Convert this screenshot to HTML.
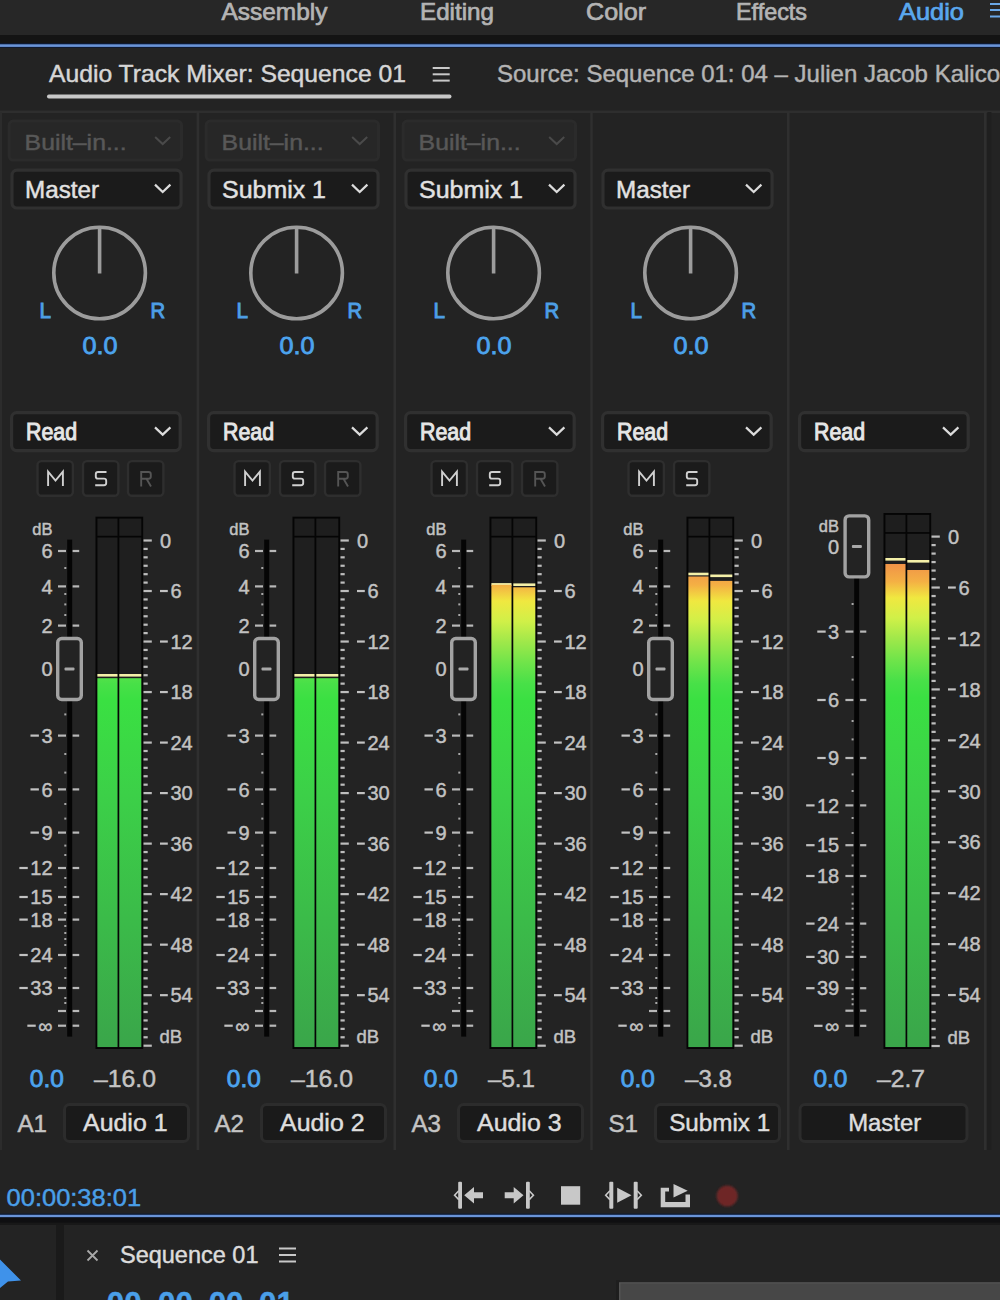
<!DOCTYPE html>
<html><head><meta charset="utf-8"><title>Audio Track Mixer</title>
<style>
html,body{margin:0;padding:0;background:#232323;width:1000px;height:1300px;overflow:hidden;}
svg{display:block;font-family:"Liberation Sans", sans-serif;}
</style></head><body>
<svg width="1000" height="1300" viewBox="0 0 1000 1300">
<rect width="1000" height="1300" fill="#232323"/>
<rect x="0" y="0" width="1000" height="35" fill="#272727" rx="0"/>
<rect x="0" y="35" width="1000" height="8.5" fill="#141414" rx="0"/>
<rect x="0" y="43.2" width="1000" height="4.6" fill="#0c1a36" rx="0"/>
<rect x="0" y="44.3" width="1000" height="2.6" fill="#6a94d8" rx="0"/>
<text x="221.5" y="19.5" font-size="24" fill="#b4b4b4" text-anchor="start" font-weight="normal" textLength="106" lengthAdjust="spacingAndGlyphs" stroke="#b4b4b4" stroke-width="0.7">Assembly</text>
<text x="420" y="19.5" font-size="24" fill="#b4b4b4" text-anchor="start" font-weight="normal" textLength="74" lengthAdjust="spacingAndGlyphs" stroke="#b4b4b4" stroke-width="0.7">Editing</text>
<text x="586" y="19.5" font-size="24" fill="#b4b4b4" text-anchor="start" font-weight="normal" textLength="60" lengthAdjust="spacingAndGlyphs" stroke="#b4b4b4" stroke-width="0.7">Color</text>
<text x="736" y="19.5" font-size="24" fill="#b4b4b4" text-anchor="start" font-weight="normal" textLength="71" lengthAdjust="spacingAndGlyphs" stroke="#b4b4b4" stroke-width="0.7">Effects</text>
<text x="899" y="19.5" font-size="24" fill="#5aa8ee" text-anchor="start" font-weight="normal" textLength="65" lengthAdjust="spacingAndGlyphs" stroke="#5aa8ee" stroke-width="0.7">Audio</text>
<rect x="990" y="3" width="12" height="2" fill="#6aa8e8" rx="0"/>
<rect x="990" y="9" width="12" height="2" fill="#6aa8e8" rx="0"/>
<rect x="990" y="15.5" width="12" height="2" fill="#6aa8e8" rx="0"/>
<text x="49" y="81.6" font-size="24" fill="#d6d6d6" text-anchor="start" font-weight="normal" textLength="357" lengthAdjust="spacingAndGlyphs" stroke="#d6d6d6" stroke-width="0.45">Audio Track Mixer: Sequence 01</text>
<rect x="432.7" y="67" width="17" height="2" fill="#c8c8c8" rx="0"/>
<rect x="432.7" y="73.3" width="17" height="2" fill="#c8c8c8" rx="0"/>
<rect x="432.7" y="79.6" width="17" height="2" fill="#c8c8c8" rx="0"/>
<rect x="47" y="94.6" width="404.5" height="3.8" fill="#c8c8c8" rx="1.9"/>
<text x="497" y="81.6" font-size="24" fill="#b4b4b4" text-anchor="start" font-weight="normal" stroke="#b4b4b4" stroke-width="0.45">Source: Sequence 01: 04 – Julien Jacob Kalicoooo</text>
<rect x="0" y="110.6" width="1000" height="2.4" fill="#2e2e2e" rx="0"/>
<g transform="translate(0,0)">
<rect x="9.2" y="121.1" width="172.3" height="38.900000000000006" fill="#272727" stroke="#2b2b2b" stroke-width="3" rx="4"/>
<text x="24.6" y="150.3" font-size="22" fill="#585858" text-anchor="start" font-weight="normal" textLength="102" lengthAdjust="spacingAndGlyphs" stroke="#585858" stroke-width="0.45">Built–in...</text>
<polyline points="155.2,137.1 162.7,144.1 170.2,137.1" fill="none" stroke="#4a4a4a" stroke-width="2"/>
<rect x="12.0" y="170.2" width="169.1" height="37.8" fill="#1b1b1b" stroke="#303030" stroke-width="3.2" rx="5"/>
<text x="25" y="198" font-size="23" fill="#e2e2e2" text-anchor="start" font-weight="normal" textLength="74" lengthAdjust="spacingAndGlyphs" stroke="#e2e2e2" stroke-width="0.45">Master</text>
<polyline points="155.0,184.65 162.7,191.95000000000002 170.39999999999998,184.65" fill="none" stroke="#dcdcdc" stroke-width="2.2"/>
<circle cx="99.6" cy="273" r="45.8" fill="none" stroke="#9c9c9c" stroke-width="3.6"/>
<rect x="97.8" y="227" width="3.6" height="46.5" fill="#9c9c9c" rx="0"/>
<text x="39.4" y="318.3" font-size="22" fill="#4d9fe6" text-anchor="start" font-weight="normal" textLength="11.5" lengthAdjust="spacingAndGlyphs" stroke="#4d9fe6" stroke-width="1.0">L</text>
<text x="150.6" y="318.3" font-size="22" fill="#4d9fe6" text-anchor="start" font-weight="normal" textLength="14.6" lengthAdjust="spacingAndGlyphs" stroke="#4d9fe6" stroke-width="1.0">R</text>
<text x="100" y="353.7" font-size="24" fill="#4ca3ee" text-anchor="middle" font-weight="normal" textLength="35" lengthAdjust="spacingAndGlyphs" stroke="#4ca3ee" stroke-width="0.8">0.0</text>
<rect x="11.6" y="412.70000000000005" width="168.60000000000002" height="37.89999999999996" fill="#1b1b1b" stroke="#303030" stroke-width="3.2" rx="5"/>
<text x="26" y="440" font-size="23" fill="#e6e6e6" text-anchor="start" font-weight="normal" textLength="51" lengthAdjust="spacingAndGlyphs" stroke="#e6e6e6" stroke-width="0.95">Read</text>
<polyline points="155.0,427.35 162.7,434.65 170.39999999999998,427.35" fill="none" stroke="#dcdcdc" stroke-width="2.2"/>
<rect x="37.5" y="461.09999999999997" width="35.4" height="34.700000000000024" fill="#1b1b1b" stroke="#2e2e2e" stroke-width="2.4" rx="4"/>
<path d="M48.1,486 V471.6 L55.5,480.5 L62.9,471.6 V486" fill="none" stroke="#d0d0d0" stroke-width="1.9" stroke-linejoin="miter"/>
<rect x="83.0" y="461.09999999999997" width="35.4" height="34.700000000000024" fill="#1b1b1b" stroke="#2e2e2e" stroke-width="2.4" rx="4"/>
<path d="M106.5,472 H98.0 Q95.8,472 95.8,474.2 V476.4 Q95.8,478.6 98.0,478.6 H104.0 Q106.2,478.6 106.2,480.8 V483 Q106.2,485.2 104.0,485.2 H95.2" fill="none" stroke="#d0d0d0" stroke-width="1.9" stroke-linejoin="miter"/>
<rect x="128.0" y="461.09999999999997" width="35.4" height="34.700000000000024" fill="#1b1b1b" stroke="#2e2e2e" stroke-width="2.4" rx="4"/>
<path d="M141.2,486.5 V472 H148.6 Q150.8,472 150.8,474.2 V476.6 Q150.8,478.8 148.6,478.8 H141.2 M146.5,478.8 L151.0,486.5" fill="none" stroke="#555555" stroke-width="1.9" stroke-linejoin="miter"/>
<linearGradient id="g0" gradientUnits="userSpaceOnUse" x1="0" y1="540.5" x2="0" y2="1045.7">
<stop offset="0.0000" stop-color="#ff6030"/>
<stop offset="0.0500" stop-color="#f09048"/>
<stop offset="0.0883" stop-color="#f4b044"/>
<stop offset="0.1200" stop-color="#f0e840"/>
<stop offset="0.1600" stop-color="#d0f048"/>
<stop offset="0.2000" stop-color="#a0e84a"/>
<stop offset="0.2417" stop-color="#70e44a"/>
<stop offset="0.2833" stop-color="#48e048"/>
<stop offset="0.3167" stop-color="#3ae042"/>
<stop offset="0.5000" stop-color="#3cd048"/>
<stop offset="1.0000" stop-color="#3aa64a"/>
</linearGradient>
<rect x="95.5" y="516.7" width="47.7" height="532.3" fill="#050505" rx="0"/>
<rect x="97.4" y="518.6" width="20.099999999999994" height="17.2" fill="#1e1e1e" rx="0"/>
<rect x="119.3" y="518.6" width="22.000000000000014" height="17.2" fill="#1e1e1e" rx="0"/>
<rect x="97.4" y="537.5" width="20.099999999999994" height="509.69999999999993" fill="#1f1f1f" rx="0"/>
<rect x="119.3" y="537.5" width="22.000000000000014" height="509.69999999999993" fill="#1f1f1f" rx="0"/>
<rect x="97.4" y="674" width="20.099999999999994" height="2.6" fill="#f4f0a8" rx="0"/>
<rect x="97.4" y="678.2" width="20.099999999999994" height="368.79999999999995" fill="url(#g0)" rx="0"/>
<rect x="119.3" y="674" width="22.000000000000014" height="2.6" fill="#f4f0a8" rx="0"/>
<rect x="119.3" y="678.2" width="22.000000000000014" height="368.79999999999995" fill="url(#g0)" rx="0"/>
<rect x="143.5" y="539.4" width="8.3" height="2.2" fill="#bdbdbd" rx="0"/>
<text x="160" y="547.7" font-size="20" fill="#c2c2c2" text-anchor="start" font-weight="normal" stroke="#c2c2c2" stroke-width="0.45">0</text>
<rect x="143.5" y="547.8199999999999" width="4.2" height="2.2" fill="#bdbdbd" rx="0"/>
<rect x="143.5" y="556.24" width="4.2" height="2.2" fill="#bdbdbd" rx="0"/>
<rect x="143.5" y="564.66" width="4.2" height="2.2" fill="#bdbdbd" rx="0"/>
<rect x="143.5" y="573.0799999999999" width="4.2" height="2.2" fill="#bdbdbd" rx="0"/>
<rect x="143.5" y="581.5" width="4.2" height="2.2" fill="#bdbdbd" rx="0"/>
<rect x="143.5" y="589.92" width="8.3" height="2.2" fill="#bdbdbd" rx="0"/>
<rect x="160" y="589.92" width="7.8" height="2.2" fill="#c2c2c2" rx="0"/>
<text x="170.4" y="598.22" font-size="20" fill="#c2c2c2" text-anchor="start" font-weight="normal" stroke="#c2c2c2" stroke-width="0.45">6</text>
<rect x="143.5" y="598.34" width="4.2" height="2.2" fill="#bdbdbd" rx="0"/>
<rect x="143.5" y="606.76" width="4.2" height="2.2" fill="#bdbdbd" rx="0"/>
<rect x="143.5" y="615.18" width="4.2" height="2.2" fill="#bdbdbd" rx="0"/>
<rect x="143.5" y="623.6" width="4.2" height="2.2" fill="#bdbdbd" rx="0"/>
<rect x="143.5" y="632.02" width="4.2" height="2.2" fill="#bdbdbd" rx="0"/>
<rect x="143.5" y="640.4399999999999" width="8.3" height="2.2" fill="#bdbdbd" rx="0"/>
<rect x="160" y="640.4399999999999" width="7.8" height="2.2" fill="#c2c2c2" rx="0"/>
<text x="170.4" y="648.74" font-size="20" fill="#c2c2c2" text-anchor="start" font-weight="normal" stroke="#c2c2c2" stroke-width="0.45">12</text>
<rect x="143.5" y="648.86" width="4.2" height="2.2" fill="#bdbdbd" rx="0"/>
<rect x="143.5" y="657.28" width="4.2" height="2.2" fill="#bdbdbd" rx="0"/>
<rect x="143.5" y="665.6999999999999" width="4.2" height="2.2" fill="#bdbdbd" rx="0"/>
<rect x="143.5" y="674.12" width="4.2" height="2.2" fill="#bdbdbd" rx="0"/>
<rect x="143.5" y="682.54" width="4.2" height="2.2" fill="#bdbdbd" rx="0"/>
<rect x="143.5" y="690.9599999999999" width="8.3" height="2.2" fill="#bdbdbd" rx="0"/>
<rect x="160" y="690.9599999999999" width="7.8" height="2.2" fill="#c2c2c2" rx="0"/>
<text x="170.4" y="699.26" font-size="20" fill="#c2c2c2" text-anchor="start" font-weight="normal" stroke="#c2c2c2" stroke-width="0.45">18</text>
<rect x="143.5" y="699.38" width="4.2" height="2.2" fill="#bdbdbd" rx="0"/>
<rect x="143.5" y="707.8" width="4.2" height="2.2" fill="#bdbdbd" rx="0"/>
<rect x="143.5" y="716.2199999999999" width="4.2" height="2.2" fill="#bdbdbd" rx="0"/>
<rect x="143.5" y="724.64" width="4.2" height="2.2" fill="#bdbdbd" rx="0"/>
<rect x="143.5" y="733.06" width="4.2" height="2.2" fill="#bdbdbd" rx="0"/>
<rect x="143.5" y="741.4799999999999" width="8.3" height="2.2" fill="#bdbdbd" rx="0"/>
<rect x="160" y="741.4799999999999" width="7.8" height="2.2" fill="#c2c2c2" rx="0"/>
<text x="170.4" y="749.78" font-size="20" fill="#c2c2c2" text-anchor="start" font-weight="normal" stroke="#c2c2c2" stroke-width="0.45">24</text>
<rect x="143.5" y="749.9" width="4.2" height="2.2" fill="#bdbdbd" rx="0"/>
<rect x="143.5" y="758.3199999999999" width="4.2" height="2.2" fill="#bdbdbd" rx="0"/>
<rect x="143.5" y="766.74" width="4.2" height="2.2" fill="#bdbdbd" rx="0"/>
<rect x="143.5" y="775.16" width="4.2" height="2.2" fill="#bdbdbd" rx="0"/>
<rect x="143.5" y="783.58" width="4.2" height="2.2" fill="#bdbdbd" rx="0"/>
<rect x="143.5" y="792.0" width="8.3" height="2.2" fill="#bdbdbd" rx="0"/>
<rect x="160" y="792.0" width="7.8" height="2.2" fill="#c2c2c2" rx="0"/>
<text x="170.4" y="800.3000000000001" font-size="20" fill="#c2c2c2" text-anchor="start" font-weight="normal" stroke="#c2c2c2" stroke-width="0.45">30</text>
<rect x="143.5" y="800.42" width="4.2" height="2.2" fill="#bdbdbd" rx="0"/>
<rect x="143.5" y="808.84" width="4.2" height="2.2" fill="#bdbdbd" rx="0"/>
<rect x="143.5" y="817.26" width="4.2" height="2.2" fill="#bdbdbd" rx="0"/>
<rect x="143.5" y="825.68" width="4.2" height="2.2" fill="#bdbdbd" rx="0"/>
<rect x="143.5" y="834.1" width="4.2" height="2.2" fill="#bdbdbd" rx="0"/>
<rect x="143.5" y="842.52" width="8.3" height="2.2" fill="#bdbdbd" rx="0"/>
<rect x="160" y="842.52" width="7.8" height="2.2" fill="#c2c2c2" rx="0"/>
<text x="170.4" y="850.82" font-size="20" fill="#c2c2c2" text-anchor="start" font-weight="normal" stroke="#c2c2c2" stroke-width="0.45">36</text>
<rect x="143.5" y="850.9399999999999" width="4.2" height="2.2" fill="#bdbdbd" rx="0"/>
<rect x="143.5" y="859.36" width="4.2" height="2.2" fill="#bdbdbd" rx="0"/>
<rect x="143.5" y="867.78" width="4.2" height="2.2" fill="#bdbdbd" rx="0"/>
<rect x="143.5" y="876.1999999999999" width="4.2" height="2.2" fill="#bdbdbd" rx="0"/>
<rect x="143.5" y="884.62" width="4.2" height="2.2" fill="#bdbdbd" rx="0"/>
<rect x="143.5" y="893.04" width="8.3" height="2.2" fill="#bdbdbd" rx="0"/>
<rect x="160" y="893.04" width="7.8" height="2.2" fill="#c2c2c2" rx="0"/>
<text x="170.4" y="901.34" font-size="20" fill="#c2c2c2" text-anchor="start" font-weight="normal" stroke="#c2c2c2" stroke-width="0.45">42</text>
<rect x="143.5" y="901.4599999999999" width="4.2" height="2.2" fill="#bdbdbd" rx="0"/>
<rect x="143.5" y="909.88" width="4.2" height="2.2" fill="#bdbdbd" rx="0"/>
<rect x="143.5" y="918.3" width="4.2" height="2.2" fill="#bdbdbd" rx="0"/>
<rect x="143.5" y="926.7199999999999" width="4.2" height="2.2" fill="#bdbdbd" rx="0"/>
<rect x="143.5" y="935.14" width="4.2" height="2.2" fill="#bdbdbd" rx="0"/>
<rect x="143.5" y="943.56" width="8.3" height="2.2" fill="#bdbdbd" rx="0"/>
<rect x="160" y="943.56" width="7.8" height="2.2" fill="#c2c2c2" rx="0"/>
<text x="170.4" y="951.86" font-size="20" fill="#c2c2c2" text-anchor="start" font-weight="normal" stroke="#c2c2c2" stroke-width="0.45">48</text>
<rect x="143.5" y="951.9799999999999" width="4.2" height="2.2" fill="#bdbdbd" rx="0"/>
<rect x="143.5" y="960.4" width="4.2" height="2.2" fill="#bdbdbd" rx="0"/>
<rect x="143.5" y="968.82" width="4.2" height="2.2" fill="#bdbdbd" rx="0"/>
<rect x="143.5" y="977.2399999999999" width="4.2" height="2.2" fill="#bdbdbd" rx="0"/>
<rect x="143.5" y="985.66" width="4.2" height="2.2" fill="#bdbdbd" rx="0"/>
<rect x="143.5" y="994.08" width="8.3" height="2.2" fill="#bdbdbd" rx="0"/>
<rect x="160" y="994.08" width="7.8" height="2.2" fill="#c2c2c2" rx="0"/>
<text x="170.4" y="1002.3800000000001" font-size="20" fill="#c2c2c2" text-anchor="start" font-weight="normal" stroke="#c2c2c2" stroke-width="0.45">54</text>
<rect x="143.5" y="1002.5" width="4.2" height="2.2" fill="#bdbdbd" rx="0"/>
<rect x="143.5" y="1010.92" width="4.2" height="2.2" fill="#bdbdbd" rx="0"/>
<rect x="143.5" y="1019.34" width="4.2" height="2.2" fill="#bdbdbd" rx="0"/>
<rect x="143.5" y="1027.7600000000002" width="4.2" height="2.2" fill="#bdbdbd" rx="0"/>
<rect x="143.5" y="1036.18" width="4.2" height="2.2" fill="#bdbdbd" rx="0"/>
<rect x="143.5" y="1044.6000000000001" width="8.3" height="2.2" fill="#bdbdbd" rx="0"/>
<text x="159.5" y="1043.28" font-size="18.5" fill="#c2c2c2" text-anchor="start" font-weight="normal" stroke="#c2c2c2" stroke-width="0.45">dB</text>
<text x="52.5" y="535" font-size="16.5" fill="#c2c2c2" text-anchor="end" font-weight="normal" stroke="#c2c2c2" stroke-width="0.45">dB</text>
<rect x="67.2" y="539.6" width="5" height="497" fill="#050505" rx="0"/>
<rect x="58" y="549.9" width="8" height="2.2" fill="#b8b8b8" rx="0"/>
<rect x="72.6" y="549.9" width="6.6" height="2.2" fill="#b8b8b8" rx="0"/>
<text x="52.6" y="558.2" font-size="20" fill="#c2c2c2" text-anchor="end" font-weight="normal" stroke="#c2c2c2" stroke-width="0.45">6</text>
<rect x="58" y="585.3" width="8" height="2.2" fill="#b8b8b8" rx="0"/>
<rect x="72.6" y="585.3" width="6.6" height="2.2" fill="#b8b8b8" rx="0"/>
<text x="52.6" y="593.6" font-size="20" fill="#c2c2c2" text-anchor="end" font-weight="normal" stroke="#c2c2c2" stroke-width="0.45">4</text>
<rect x="58" y="624.5" width="8" height="2.2" fill="#b8b8b8" rx="0"/>
<rect x="72.6" y="624.5" width="6.6" height="2.2" fill="#b8b8b8" rx="0"/>
<text x="52.6" y="632.8000000000001" font-size="20" fill="#c2c2c2" text-anchor="end" font-weight="normal" stroke="#c2c2c2" stroke-width="0.45">2</text>
<rect x="58" y="667.9" width="8" height="2.2" fill="#b8b8b8" rx="0"/>
<rect x="72.6" y="667.9" width="6.6" height="2.2" fill="#b8b8b8" rx="0"/>
<text x="52.6" y="676.2" font-size="20" fill="#c2c2c2" text-anchor="end" font-weight="normal" stroke="#c2c2c2" stroke-width="0.45">0</text>
<rect x="58" y="734.5" width="8" height="2.2" fill="#b8b8b8" rx="0"/>
<rect x="72.6" y="734.5" width="6.6" height="2.2" fill="#b8b8b8" rx="0"/>
<text x="52.6" y="742.8000000000001" font-size="20" fill="#c2c2c2" text-anchor="end" font-weight="normal" stroke="#c2c2c2" stroke-width="0.45">3</text>
<rect x="30.480000000000004" y="734.5" width="8.4" height="2.2" fill="#c2c2c2" rx="0"/>
<rect x="58" y="788.3" width="8" height="2.2" fill="#b8b8b8" rx="0"/>
<rect x="72.6" y="788.3" width="6.6" height="2.2" fill="#b8b8b8" rx="0"/>
<text x="52.6" y="796.6" font-size="20" fill="#c2c2c2" text-anchor="end" font-weight="normal" stroke="#c2c2c2" stroke-width="0.45">6</text>
<rect x="30.480000000000004" y="788.3" width="8.4" height="2.2" fill="#c2c2c2" rx="0"/>
<rect x="58" y="831.5" width="8" height="2.2" fill="#b8b8b8" rx="0"/>
<rect x="72.6" y="831.5" width="6.6" height="2.2" fill="#b8b8b8" rx="0"/>
<text x="52.6" y="839.8000000000001" font-size="20" fill="#c2c2c2" text-anchor="end" font-weight="normal" stroke="#c2c2c2" stroke-width="0.45">9</text>
<rect x="30.480000000000004" y="831.5" width="8.4" height="2.2" fill="#c2c2c2" rx="0"/>
<rect x="58" y="866.9" width="8" height="2.2" fill="#b8b8b8" rx="0"/>
<rect x="72.6" y="866.9" width="6.6" height="2.2" fill="#b8b8b8" rx="0"/>
<text x="52.6" y="875.2" font-size="20" fill="#c2c2c2" text-anchor="end" font-weight="normal" stroke="#c2c2c2" stroke-width="0.45">12</text>
<rect x="19.36" y="866.9" width="8.4" height="2.2" fill="#c2c2c2" rx="0"/>
<rect x="58" y="895.9" width="8" height="2.2" fill="#b8b8b8" rx="0"/>
<rect x="72.6" y="895.9" width="6.6" height="2.2" fill="#b8b8b8" rx="0"/>
<text x="52.6" y="904.2" font-size="20" fill="#c2c2c2" text-anchor="end" font-weight="normal" stroke="#c2c2c2" stroke-width="0.45">15</text>
<rect x="19.36" y="895.9" width="8.4" height="2.2" fill="#c2c2c2" rx="0"/>
<rect x="58" y="918.5" width="8" height="2.2" fill="#b8b8b8" rx="0"/>
<rect x="72.6" y="918.5" width="6.6" height="2.2" fill="#b8b8b8" rx="0"/>
<text x="52.6" y="926.8000000000001" font-size="20" fill="#c2c2c2" text-anchor="end" font-weight="normal" stroke="#c2c2c2" stroke-width="0.45">18</text>
<rect x="19.36" y="918.5" width="8.4" height="2.2" fill="#c2c2c2" rx="0"/>
<rect x="58" y="953.9" width="8" height="2.2" fill="#b8b8b8" rx="0"/>
<rect x="72.6" y="953.9" width="6.6" height="2.2" fill="#b8b8b8" rx="0"/>
<text x="52.6" y="962.2" font-size="20" fill="#c2c2c2" text-anchor="end" font-weight="normal" stroke="#c2c2c2" stroke-width="0.45">24</text>
<rect x="19.36" y="953.9" width="8.4" height="2.2" fill="#c2c2c2" rx="0"/>
<rect x="58" y="986.9" width="8" height="2.2" fill="#b8b8b8" rx="0"/>
<rect x="72.6" y="986.9" width="6.6" height="2.2" fill="#b8b8b8" rx="0"/>
<text x="52.6" y="995.2" font-size="20" fill="#c2c2c2" text-anchor="end" font-weight="normal" stroke="#c2c2c2" stroke-width="0.45">33</text>
<rect x="19.36" y="986.9" width="8.4" height="2.2" fill="#c2c2c2" rx="0"/>
<rect x="58" y="1009.9" width="8" height="2.2" fill="#b8b8b8" rx="0"/>
<rect x="72.6" y="1009.9" width="6.6" height="2.2" fill="#b8b8b8" rx="0"/>
<rect x="58" y="1024.6000000000001" width="8" height="2.2" fill="#b8b8b8" rx="0"/>
<rect x="72.6" y="1024.6000000000001" width="6.6" height="2.2" fill="#b8b8b8" rx="0"/>
<text x="52.6" y="1032.9" font-size="20" fill="#c2c2c2" text-anchor="end" font-weight="normal" stroke="#c2c2c2" stroke-width="0.45">∞</text>
<rect x="27.340000000000003" y="1024.6000000000001" width="8.4" height="2.2" fill="#c2c2c2" rx="0"/>
<rect x="64.3" y="567" width="2" height="2" fill="#a8a8a8" rx="0"/>
<rect x="64.3" y="593" width="2" height="2" fill="#a8a8a8" rx="0"/>
<rect x="64.3" y="603.4" width="2" height="2" fill="#a8a8a8" rx="0"/>
<rect x="64.3" y="614" width="2" height="2" fill="#a8a8a8" rx="0"/>
<rect x="64.3" y="713.4" width="2" height="2" fill="#a8a8a8" rx="0"/>
<rect x="64.3" y="753" width="2" height="2" fill="#a8a8a8" rx="0"/>
<rect x="64.3" y="771.6" width="2" height="2" fill="#a8a8a8" rx="0"/>
<rect x="64.3" y="803" width="2" height="2" fill="#a8a8a8" rx="0"/>
<rect x="64.3" y="817.6" width="2" height="2" fill="#a8a8a8" rx="0"/>
<rect x="64.3" y="844.6" width="2" height="2" fill="#a8a8a8" rx="0"/>
<rect x="64.3" y="854" width="2" height="2" fill="#a8a8a8" rx="0"/>
<rect x="64.3" y="877" width="2" height="2" fill="#a8a8a8" rx="0"/>
<rect x="64.3" y="886" width="2" height="2" fill="#a8a8a8" rx="0"/>
<rect x="64.3" y="904" width="2" height="2" fill="#a8a8a8" rx="0"/>
<rect x="64.3" y="912" width="2" height="2" fill="#a8a8a8" rx="0"/>
<rect x="64.3" y="925" width="2" height="2" fill="#a8a8a8" rx="0"/>
<rect x="64.3" y="932" width="2" height="2" fill="#a8a8a8" rx="0"/>
<rect x="64.3" y="938" width="2" height="2" fill="#a8a8a8" rx="0"/>
<rect x="64.3" y="944" width="2" height="2" fill="#a8a8a8" rx="0"/>
<rect x="64.3" y="967" width="2" height="2" fill="#a8a8a8" rx="0"/>
<rect x="64.3" y="977" width="2" height="2" fill="#a8a8a8" rx="0"/>
<rect x="64.3" y="997" width="2" height="2" fill="#a8a8a8" rx="0"/>
<rect x="64.3" y="1002" width="2" height="2" fill="#a8a8a8" rx="0"/>
<rect x="57.7" y="638.5" width="23.6" height="61" fill="#232323" stroke="#a2a2a2" stroke-width="3.4" rx="4"/>
<rect x="64.5" y="667.5" width="10" height="3" fill="#a8a8a8" rx="1"/>
<text x="29.8" y="1086.6" font-size="24" fill="#4ca3ee" text-anchor="start" font-weight="normal" textLength="34" lengthAdjust="spacingAndGlyphs" stroke="#4ca3ee" stroke-width="0.8">0.0</text>
<text x="94" y="1086.6" font-size="24" fill="#c4c4c4" text-anchor="start" font-weight="normal" textLength="62" lengthAdjust="spacingAndGlyphs" stroke="#c4c4c4" stroke-width="0.45">–16.0</text>
<text x="17.4" y="1131.5" font-size="23" fill="#c4c4c4" text-anchor="start" font-weight="normal" textLength="29.5" lengthAdjust="spacingAndGlyphs" stroke="#c4c4c4" stroke-width="0.45">A1</text>
<rect x="64.5" y="1104.5" width="124" height="37" fill="#1a1a1a" stroke="#2c2c2c" stroke-width="3" rx="5"/>
<text x="125.3" y="1130.8" font-size="23" fill="#dedede" text-anchor="middle" font-weight="normal" textLength="84.5" lengthAdjust="spacingAndGlyphs" stroke="#dedede" stroke-width="0.45">Audio 1</text>
</g>
<g transform="translate(197,0)">
<rect x="9.2" y="121.1" width="172.3" height="38.900000000000006" fill="#272727" stroke="#2b2b2b" stroke-width="3" rx="4"/>
<text x="24.6" y="150.3" font-size="22" fill="#585858" text-anchor="start" font-weight="normal" textLength="102" lengthAdjust="spacingAndGlyphs" stroke="#585858" stroke-width="0.45">Built–in...</text>
<polyline points="155.2,137.1 162.7,144.1 170.2,137.1" fill="none" stroke="#4a4a4a" stroke-width="2"/>
<rect x="12.0" y="170.2" width="169.1" height="37.8" fill="#1b1b1b" stroke="#303030" stroke-width="3.2" rx="5"/>
<text x="25" y="198" font-size="23" fill="#e2e2e2" text-anchor="start" font-weight="normal" textLength="104" lengthAdjust="spacingAndGlyphs" stroke="#e2e2e2" stroke-width="0.45">Submix 1</text>
<polyline points="155.0,184.65 162.7,191.95000000000002 170.39999999999998,184.65" fill="none" stroke="#dcdcdc" stroke-width="2.2"/>
<circle cx="99.6" cy="273" r="45.8" fill="none" stroke="#9c9c9c" stroke-width="3.6"/>
<rect x="97.8" y="227" width="3.6" height="46.5" fill="#9c9c9c" rx="0"/>
<text x="39.4" y="318.3" font-size="22" fill="#4d9fe6" text-anchor="start" font-weight="normal" textLength="11.5" lengthAdjust="spacingAndGlyphs" stroke="#4d9fe6" stroke-width="1.0">L</text>
<text x="150.6" y="318.3" font-size="22" fill="#4d9fe6" text-anchor="start" font-weight="normal" textLength="14.6" lengthAdjust="spacingAndGlyphs" stroke="#4d9fe6" stroke-width="1.0">R</text>
<text x="100" y="353.7" font-size="24" fill="#4ca3ee" text-anchor="middle" font-weight="normal" textLength="35" lengthAdjust="spacingAndGlyphs" stroke="#4ca3ee" stroke-width="0.8">0.0</text>
<rect x="11.6" y="412.70000000000005" width="168.60000000000002" height="37.89999999999996" fill="#1b1b1b" stroke="#303030" stroke-width="3.2" rx="5"/>
<text x="26" y="440" font-size="23" fill="#e6e6e6" text-anchor="start" font-weight="normal" textLength="51" lengthAdjust="spacingAndGlyphs" stroke="#e6e6e6" stroke-width="0.95">Read</text>
<polyline points="155.0,427.35 162.7,434.65 170.39999999999998,427.35" fill="none" stroke="#dcdcdc" stroke-width="2.2"/>
<rect x="37.5" y="461.09999999999997" width="35.4" height="34.700000000000024" fill="#1b1b1b" stroke="#2e2e2e" stroke-width="2.4" rx="4"/>
<path d="M48.1,486 V471.6 L55.5,480.5 L62.9,471.6 V486" fill="none" stroke="#d0d0d0" stroke-width="1.9" stroke-linejoin="miter"/>
<rect x="83.0" y="461.09999999999997" width="35.4" height="34.700000000000024" fill="#1b1b1b" stroke="#2e2e2e" stroke-width="2.4" rx="4"/>
<path d="M106.5,472 H98.0 Q95.8,472 95.8,474.2 V476.4 Q95.8,478.6 98.0,478.6 H104.0 Q106.2,478.6 106.2,480.8 V483 Q106.2,485.2 104.0,485.2 H95.2" fill="none" stroke="#d0d0d0" stroke-width="1.9" stroke-linejoin="miter"/>
<rect x="128.0" y="461.09999999999997" width="35.4" height="34.700000000000024" fill="#1b1b1b" stroke="#2e2e2e" stroke-width="2.4" rx="4"/>
<path d="M141.2,486.5 V472 H148.6 Q150.8,472 150.8,474.2 V476.6 Q150.8,478.8 148.6,478.8 H141.2 M146.5,478.8 L151.0,486.5" fill="none" stroke="#555555" stroke-width="1.9" stroke-linejoin="miter"/>
<linearGradient id="g1" gradientUnits="userSpaceOnUse" x1="0" y1="540.5" x2="0" y2="1045.7">
<stop offset="0.0000" stop-color="#ff6030"/>
<stop offset="0.0500" stop-color="#f09048"/>
<stop offset="0.0883" stop-color="#f4b044"/>
<stop offset="0.1200" stop-color="#f0e840"/>
<stop offset="0.1600" stop-color="#d0f048"/>
<stop offset="0.2000" stop-color="#a0e84a"/>
<stop offset="0.2417" stop-color="#70e44a"/>
<stop offset="0.2833" stop-color="#48e048"/>
<stop offset="0.3167" stop-color="#3ae042"/>
<stop offset="0.5000" stop-color="#3cd048"/>
<stop offset="1.0000" stop-color="#3aa64a"/>
</linearGradient>
<rect x="95.5" y="516.7" width="47.7" height="532.3" fill="#050505" rx="0"/>
<rect x="97.4" y="518.6" width="20.099999999999994" height="17.2" fill="#1e1e1e" rx="0"/>
<rect x="119.3" y="518.6" width="22.000000000000014" height="17.2" fill="#1e1e1e" rx="0"/>
<rect x="97.4" y="537.5" width="20.099999999999994" height="509.69999999999993" fill="#1f1f1f" rx="0"/>
<rect x="119.3" y="537.5" width="22.000000000000014" height="509.69999999999993" fill="#1f1f1f" rx="0"/>
<rect x="97.4" y="674" width="20.099999999999994" height="2.6" fill="#f4f0a8" rx="0"/>
<rect x="97.4" y="678.2" width="20.099999999999994" height="368.79999999999995" fill="url(#g1)" rx="0"/>
<rect x="119.3" y="674" width="22.000000000000014" height="2.6" fill="#f4f0a8" rx="0"/>
<rect x="119.3" y="678.2" width="22.000000000000014" height="368.79999999999995" fill="url(#g1)" rx="0"/>
<rect x="143.5" y="539.4" width="8.3" height="2.2" fill="#bdbdbd" rx="0"/>
<text x="160" y="547.7" font-size="20" fill="#c2c2c2" text-anchor="start" font-weight="normal" stroke="#c2c2c2" stroke-width="0.45">0</text>
<rect x="143.5" y="547.8199999999999" width="4.2" height="2.2" fill="#bdbdbd" rx="0"/>
<rect x="143.5" y="556.24" width="4.2" height="2.2" fill="#bdbdbd" rx="0"/>
<rect x="143.5" y="564.66" width="4.2" height="2.2" fill="#bdbdbd" rx="0"/>
<rect x="143.5" y="573.0799999999999" width="4.2" height="2.2" fill="#bdbdbd" rx="0"/>
<rect x="143.5" y="581.5" width="4.2" height="2.2" fill="#bdbdbd" rx="0"/>
<rect x="143.5" y="589.92" width="8.3" height="2.2" fill="#bdbdbd" rx="0"/>
<rect x="160" y="589.92" width="7.8" height="2.2" fill="#c2c2c2" rx="0"/>
<text x="170.4" y="598.22" font-size="20" fill="#c2c2c2" text-anchor="start" font-weight="normal" stroke="#c2c2c2" stroke-width="0.45">6</text>
<rect x="143.5" y="598.34" width="4.2" height="2.2" fill="#bdbdbd" rx="0"/>
<rect x="143.5" y="606.76" width="4.2" height="2.2" fill="#bdbdbd" rx="0"/>
<rect x="143.5" y="615.18" width="4.2" height="2.2" fill="#bdbdbd" rx="0"/>
<rect x="143.5" y="623.6" width="4.2" height="2.2" fill="#bdbdbd" rx="0"/>
<rect x="143.5" y="632.02" width="4.2" height="2.2" fill="#bdbdbd" rx="0"/>
<rect x="143.5" y="640.4399999999999" width="8.3" height="2.2" fill="#bdbdbd" rx="0"/>
<rect x="160" y="640.4399999999999" width="7.8" height="2.2" fill="#c2c2c2" rx="0"/>
<text x="170.4" y="648.74" font-size="20" fill="#c2c2c2" text-anchor="start" font-weight="normal" stroke="#c2c2c2" stroke-width="0.45">12</text>
<rect x="143.5" y="648.86" width="4.2" height="2.2" fill="#bdbdbd" rx="0"/>
<rect x="143.5" y="657.28" width="4.2" height="2.2" fill="#bdbdbd" rx="0"/>
<rect x="143.5" y="665.6999999999999" width="4.2" height="2.2" fill="#bdbdbd" rx="0"/>
<rect x="143.5" y="674.12" width="4.2" height="2.2" fill="#bdbdbd" rx="0"/>
<rect x="143.5" y="682.54" width="4.2" height="2.2" fill="#bdbdbd" rx="0"/>
<rect x="143.5" y="690.9599999999999" width="8.3" height="2.2" fill="#bdbdbd" rx="0"/>
<rect x="160" y="690.9599999999999" width="7.8" height="2.2" fill="#c2c2c2" rx="0"/>
<text x="170.4" y="699.26" font-size="20" fill="#c2c2c2" text-anchor="start" font-weight="normal" stroke="#c2c2c2" stroke-width="0.45">18</text>
<rect x="143.5" y="699.38" width="4.2" height="2.2" fill="#bdbdbd" rx="0"/>
<rect x="143.5" y="707.8" width="4.2" height="2.2" fill="#bdbdbd" rx="0"/>
<rect x="143.5" y="716.2199999999999" width="4.2" height="2.2" fill="#bdbdbd" rx="0"/>
<rect x="143.5" y="724.64" width="4.2" height="2.2" fill="#bdbdbd" rx="0"/>
<rect x="143.5" y="733.06" width="4.2" height="2.2" fill="#bdbdbd" rx="0"/>
<rect x="143.5" y="741.4799999999999" width="8.3" height="2.2" fill="#bdbdbd" rx="0"/>
<rect x="160" y="741.4799999999999" width="7.8" height="2.2" fill="#c2c2c2" rx="0"/>
<text x="170.4" y="749.78" font-size="20" fill="#c2c2c2" text-anchor="start" font-weight="normal" stroke="#c2c2c2" stroke-width="0.45">24</text>
<rect x="143.5" y="749.9" width="4.2" height="2.2" fill="#bdbdbd" rx="0"/>
<rect x="143.5" y="758.3199999999999" width="4.2" height="2.2" fill="#bdbdbd" rx="0"/>
<rect x="143.5" y="766.74" width="4.2" height="2.2" fill="#bdbdbd" rx="0"/>
<rect x="143.5" y="775.16" width="4.2" height="2.2" fill="#bdbdbd" rx="0"/>
<rect x="143.5" y="783.58" width="4.2" height="2.2" fill="#bdbdbd" rx="0"/>
<rect x="143.5" y="792.0" width="8.3" height="2.2" fill="#bdbdbd" rx="0"/>
<rect x="160" y="792.0" width="7.8" height="2.2" fill="#c2c2c2" rx="0"/>
<text x="170.4" y="800.3000000000001" font-size="20" fill="#c2c2c2" text-anchor="start" font-weight="normal" stroke="#c2c2c2" stroke-width="0.45">30</text>
<rect x="143.5" y="800.42" width="4.2" height="2.2" fill="#bdbdbd" rx="0"/>
<rect x="143.5" y="808.84" width="4.2" height="2.2" fill="#bdbdbd" rx="0"/>
<rect x="143.5" y="817.26" width="4.2" height="2.2" fill="#bdbdbd" rx="0"/>
<rect x="143.5" y="825.68" width="4.2" height="2.2" fill="#bdbdbd" rx="0"/>
<rect x="143.5" y="834.1" width="4.2" height="2.2" fill="#bdbdbd" rx="0"/>
<rect x="143.5" y="842.52" width="8.3" height="2.2" fill="#bdbdbd" rx="0"/>
<rect x="160" y="842.52" width="7.8" height="2.2" fill="#c2c2c2" rx="0"/>
<text x="170.4" y="850.82" font-size="20" fill="#c2c2c2" text-anchor="start" font-weight="normal" stroke="#c2c2c2" stroke-width="0.45">36</text>
<rect x="143.5" y="850.9399999999999" width="4.2" height="2.2" fill="#bdbdbd" rx="0"/>
<rect x="143.5" y="859.36" width="4.2" height="2.2" fill="#bdbdbd" rx="0"/>
<rect x="143.5" y="867.78" width="4.2" height="2.2" fill="#bdbdbd" rx="0"/>
<rect x="143.5" y="876.1999999999999" width="4.2" height="2.2" fill="#bdbdbd" rx="0"/>
<rect x="143.5" y="884.62" width="4.2" height="2.2" fill="#bdbdbd" rx="0"/>
<rect x="143.5" y="893.04" width="8.3" height="2.2" fill="#bdbdbd" rx="0"/>
<rect x="160" y="893.04" width="7.8" height="2.2" fill="#c2c2c2" rx="0"/>
<text x="170.4" y="901.34" font-size="20" fill="#c2c2c2" text-anchor="start" font-weight="normal" stroke="#c2c2c2" stroke-width="0.45">42</text>
<rect x="143.5" y="901.4599999999999" width="4.2" height="2.2" fill="#bdbdbd" rx="0"/>
<rect x="143.5" y="909.88" width="4.2" height="2.2" fill="#bdbdbd" rx="0"/>
<rect x="143.5" y="918.3" width="4.2" height="2.2" fill="#bdbdbd" rx="0"/>
<rect x="143.5" y="926.7199999999999" width="4.2" height="2.2" fill="#bdbdbd" rx="0"/>
<rect x="143.5" y="935.14" width="4.2" height="2.2" fill="#bdbdbd" rx="0"/>
<rect x="143.5" y="943.56" width="8.3" height="2.2" fill="#bdbdbd" rx="0"/>
<rect x="160" y="943.56" width="7.8" height="2.2" fill="#c2c2c2" rx="0"/>
<text x="170.4" y="951.86" font-size="20" fill="#c2c2c2" text-anchor="start" font-weight="normal" stroke="#c2c2c2" stroke-width="0.45">48</text>
<rect x="143.5" y="951.9799999999999" width="4.2" height="2.2" fill="#bdbdbd" rx="0"/>
<rect x="143.5" y="960.4" width="4.2" height="2.2" fill="#bdbdbd" rx="0"/>
<rect x="143.5" y="968.82" width="4.2" height="2.2" fill="#bdbdbd" rx="0"/>
<rect x="143.5" y="977.2399999999999" width="4.2" height="2.2" fill="#bdbdbd" rx="0"/>
<rect x="143.5" y="985.66" width="4.2" height="2.2" fill="#bdbdbd" rx="0"/>
<rect x="143.5" y="994.08" width="8.3" height="2.2" fill="#bdbdbd" rx="0"/>
<rect x="160" y="994.08" width="7.8" height="2.2" fill="#c2c2c2" rx="0"/>
<text x="170.4" y="1002.3800000000001" font-size="20" fill="#c2c2c2" text-anchor="start" font-weight="normal" stroke="#c2c2c2" stroke-width="0.45">54</text>
<rect x="143.5" y="1002.5" width="4.2" height="2.2" fill="#bdbdbd" rx="0"/>
<rect x="143.5" y="1010.92" width="4.2" height="2.2" fill="#bdbdbd" rx="0"/>
<rect x="143.5" y="1019.34" width="4.2" height="2.2" fill="#bdbdbd" rx="0"/>
<rect x="143.5" y="1027.7600000000002" width="4.2" height="2.2" fill="#bdbdbd" rx="0"/>
<rect x="143.5" y="1036.18" width="4.2" height="2.2" fill="#bdbdbd" rx="0"/>
<rect x="143.5" y="1044.6000000000001" width="8.3" height="2.2" fill="#bdbdbd" rx="0"/>
<text x="159.5" y="1043.28" font-size="18.5" fill="#c2c2c2" text-anchor="start" font-weight="normal" stroke="#c2c2c2" stroke-width="0.45">dB</text>
<text x="52.5" y="535" font-size="16.5" fill="#c2c2c2" text-anchor="end" font-weight="normal" stroke="#c2c2c2" stroke-width="0.45">dB</text>
<rect x="67.2" y="539.6" width="5" height="497" fill="#050505" rx="0"/>
<rect x="58" y="549.9" width="8" height="2.2" fill="#b8b8b8" rx="0"/>
<rect x="72.6" y="549.9" width="6.6" height="2.2" fill="#b8b8b8" rx="0"/>
<text x="52.6" y="558.2" font-size="20" fill="#c2c2c2" text-anchor="end" font-weight="normal" stroke="#c2c2c2" stroke-width="0.45">6</text>
<rect x="58" y="585.3" width="8" height="2.2" fill="#b8b8b8" rx="0"/>
<rect x="72.6" y="585.3" width="6.6" height="2.2" fill="#b8b8b8" rx="0"/>
<text x="52.6" y="593.6" font-size="20" fill="#c2c2c2" text-anchor="end" font-weight="normal" stroke="#c2c2c2" stroke-width="0.45">4</text>
<rect x="58" y="624.5" width="8" height="2.2" fill="#b8b8b8" rx="0"/>
<rect x="72.6" y="624.5" width="6.6" height="2.2" fill="#b8b8b8" rx="0"/>
<text x="52.6" y="632.8000000000001" font-size="20" fill="#c2c2c2" text-anchor="end" font-weight="normal" stroke="#c2c2c2" stroke-width="0.45">2</text>
<rect x="58" y="667.9" width="8" height="2.2" fill="#b8b8b8" rx="0"/>
<rect x="72.6" y="667.9" width="6.6" height="2.2" fill="#b8b8b8" rx="0"/>
<text x="52.6" y="676.2" font-size="20" fill="#c2c2c2" text-anchor="end" font-weight="normal" stroke="#c2c2c2" stroke-width="0.45">0</text>
<rect x="58" y="734.5" width="8" height="2.2" fill="#b8b8b8" rx="0"/>
<rect x="72.6" y="734.5" width="6.6" height="2.2" fill="#b8b8b8" rx="0"/>
<text x="52.6" y="742.8000000000001" font-size="20" fill="#c2c2c2" text-anchor="end" font-weight="normal" stroke="#c2c2c2" stroke-width="0.45">3</text>
<rect x="30.480000000000004" y="734.5" width="8.4" height="2.2" fill="#c2c2c2" rx="0"/>
<rect x="58" y="788.3" width="8" height="2.2" fill="#b8b8b8" rx="0"/>
<rect x="72.6" y="788.3" width="6.6" height="2.2" fill="#b8b8b8" rx="0"/>
<text x="52.6" y="796.6" font-size="20" fill="#c2c2c2" text-anchor="end" font-weight="normal" stroke="#c2c2c2" stroke-width="0.45">6</text>
<rect x="30.480000000000004" y="788.3" width="8.4" height="2.2" fill="#c2c2c2" rx="0"/>
<rect x="58" y="831.5" width="8" height="2.2" fill="#b8b8b8" rx="0"/>
<rect x="72.6" y="831.5" width="6.6" height="2.2" fill="#b8b8b8" rx="0"/>
<text x="52.6" y="839.8000000000001" font-size="20" fill="#c2c2c2" text-anchor="end" font-weight="normal" stroke="#c2c2c2" stroke-width="0.45">9</text>
<rect x="30.480000000000004" y="831.5" width="8.4" height="2.2" fill="#c2c2c2" rx="0"/>
<rect x="58" y="866.9" width="8" height="2.2" fill="#b8b8b8" rx="0"/>
<rect x="72.6" y="866.9" width="6.6" height="2.2" fill="#b8b8b8" rx="0"/>
<text x="52.6" y="875.2" font-size="20" fill="#c2c2c2" text-anchor="end" font-weight="normal" stroke="#c2c2c2" stroke-width="0.45">12</text>
<rect x="19.36" y="866.9" width="8.4" height="2.2" fill="#c2c2c2" rx="0"/>
<rect x="58" y="895.9" width="8" height="2.2" fill="#b8b8b8" rx="0"/>
<rect x="72.6" y="895.9" width="6.6" height="2.2" fill="#b8b8b8" rx="0"/>
<text x="52.6" y="904.2" font-size="20" fill="#c2c2c2" text-anchor="end" font-weight="normal" stroke="#c2c2c2" stroke-width="0.45">15</text>
<rect x="19.36" y="895.9" width="8.4" height="2.2" fill="#c2c2c2" rx="0"/>
<rect x="58" y="918.5" width="8" height="2.2" fill="#b8b8b8" rx="0"/>
<rect x="72.6" y="918.5" width="6.6" height="2.2" fill="#b8b8b8" rx="0"/>
<text x="52.6" y="926.8000000000001" font-size="20" fill="#c2c2c2" text-anchor="end" font-weight="normal" stroke="#c2c2c2" stroke-width="0.45">18</text>
<rect x="19.36" y="918.5" width="8.4" height="2.2" fill="#c2c2c2" rx="0"/>
<rect x="58" y="953.9" width="8" height="2.2" fill="#b8b8b8" rx="0"/>
<rect x="72.6" y="953.9" width="6.6" height="2.2" fill="#b8b8b8" rx="0"/>
<text x="52.6" y="962.2" font-size="20" fill="#c2c2c2" text-anchor="end" font-weight="normal" stroke="#c2c2c2" stroke-width="0.45">24</text>
<rect x="19.36" y="953.9" width="8.4" height="2.2" fill="#c2c2c2" rx="0"/>
<rect x="58" y="986.9" width="8" height="2.2" fill="#b8b8b8" rx="0"/>
<rect x="72.6" y="986.9" width="6.6" height="2.2" fill="#b8b8b8" rx="0"/>
<text x="52.6" y="995.2" font-size="20" fill="#c2c2c2" text-anchor="end" font-weight="normal" stroke="#c2c2c2" stroke-width="0.45">33</text>
<rect x="19.36" y="986.9" width="8.4" height="2.2" fill="#c2c2c2" rx="0"/>
<rect x="58" y="1009.9" width="8" height="2.2" fill="#b8b8b8" rx="0"/>
<rect x="72.6" y="1009.9" width="6.6" height="2.2" fill="#b8b8b8" rx="0"/>
<rect x="58" y="1024.6000000000001" width="8" height="2.2" fill="#b8b8b8" rx="0"/>
<rect x="72.6" y="1024.6000000000001" width="6.6" height="2.2" fill="#b8b8b8" rx="0"/>
<text x="52.6" y="1032.9" font-size="20" fill="#c2c2c2" text-anchor="end" font-weight="normal" stroke="#c2c2c2" stroke-width="0.45">∞</text>
<rect x="27.340000000000003" y="1024.6000000000001" width="8.4" height="2.2" fill="#c2c2c2" rx="0"/>
<rect x="64.3" y="567" width="2" height="2" fill="#a8a8a8" rx="0"/>
<rect x="64.3" y="593" width="2" height="2" fill="#a8a8a8" rx="0"/>
<rect x="64.3" y="603.4" width="2" height="2" fill="#a8a8a8" rx="0"/>
<rect x="64.3" y="614" width="2" height="2" fill="#a8a8a8" rx="0"/>
<rect x="64.3" y="713.4" width="2" height="2" fill="#a8a8a8" rx="0"/>
<rect x="64.3" y="753" width="2" height="2" fill="#a8a8a8" rx="0"/>
<rect x="64.3" y="771.6" width="2" height="2" fill="#a8a8a8" rx="0"/>
<rect x="64.3" y="803" width="2" height="2" fill="#a8a8a8" rx="0"/>
<rect x="64.3" y="817.6" width="2" height="2" fill="#a8a8a8" rx="0"/>
<rect x="64.3" y="844.6" width="2" height="2" fill="#a8a8a8" rx="0"/>
<rect x="64.3" y="854" width="2" height="2" fill="#a8a8a8" rx="0"/>
<rect x="64.3" y="877" width="2" height="2" fill="#a8a8a8" rx="0"/>
<rect x="64.3" y="886" width="2" height="2" fill="#a8a8a8" rx="0"/>
<rect x="64.3" y="904" width="2" height="2" fill="#a8a8a8" rx="0"/>
<rect x="64.3" y="912" width="2" height="2" fill="#a8a8a8" rx="0"/>
<rect x="64.3" y="925" width="2" height="2" fill="#a8a8a8" rx="0"/>
<rect x="64.3" y="932" width="2" height="2" fill="#a8a8a8" rx="0"/>
<rect x="64.3" y="938" width="2" height="2" fill="#a8a8a8" rx="0"/>
<rect x="64.3" y="944" width="2" height="2" fill="#a8a8a8" rx="0"/>
<rect x="64.3" y="967" width="2" height="2" fill="#a8a8a8" rx="0"/>
<rect x="64.3" y="977" width="2" height="2" fill="#a8a8a8" rx="0"/>
<rect x="64.3" y="997" width="2" height="2" fill="#a8a8a8" rx="0"/>
<rect x="64.3" y="1002" width="2" height="2" fill="#a8a8a8" rx="0"/>
<rect x="57.7" y="638.5" width="23.6" height="61" fill="#232323" stroke="#a2a2a2" stroke-width="3.4" rx="4"/>
<rect x="64.5" y="667.5" width="10" height="3" fill="#a8a8a8" rx="1"/>
<text x="29.8" y="1086.6" font-size="24" fill="#4ca3ee" text-anchor="start" font-weight="normal" textLength="34" lengthAdjust="spacingAndGlyphs" stroke="#4ca3ee" stroke-width="0.8">0.0</text>
<text x="94" y="1086.6" font-size="24" fill="#c4c4c4" text-anchor="start" font-weight="normal" textLength="62" lengthAdjust="spacingAndGlyphs" stroke="#c4c4c4" stroke-width="0.45">–16.0</text>
<text x="17.4" y="1131.5" font-size="23" fill="#c4c4c4" text-anchor="start" font-weight="normal" textLength="29.5" lengthAdjust="spacingAndGlyphs" stroke="#c4c4c4" stroke-width="0.45">A2</text>
<rect x="64.5" y="1104.5" width="124" height="37" fill="#1a1a1a" stroke="#2c2c2c" stroke-width="3" rx="5"/>
<text x="125.3" y="1130.8" font-size="23" fill="#dedede" text-anchor="middle" font-weight="normal" textLength="84.5" lengthAdjust="spacingAndGlyphs" stroke="#dedede" stroke-width="0.45">Audio 2</text>
</g>
<g transform="translate(394,0)">
<rect x="9.2" y="121.1" width="172.3" height="38.900000000000006" fill="#272727" stroke="#2b2b2b" stroke-width="3" rx="4"/>
<text x="24.6" y="150.3" font-size="22" fill="#585858" text-anchor="start" font-weight="normal" textLength="102" lengthAdjust="spacingAndGlyphs" stroke="#585858" stroke-width="0.45">Built–in...</text>
<polyline points="155.2,137.1 162.7,144.1 170.2,137.1" fill="none" stroke="#4a4a4a" stroke-width="2"/>
<rect x="12.0" y="170.2" width="169.1" height="37.8" fill="#1b1b1b" stroke="#303030" stroke-width="3.2" rx="5"/>
<text x="25" y="198" font-size="23" fill="#e2e2e2" text-anchor="start" font-weight="normal" textLength="104" lengthAdjust="spacingAndGlyphs" stroke="#e2e2e2" stroke-width="0.45">Submix 1</text>
<polyline points="155.0,184.65 162.7,191.95000000000002 170.39999999999998,184.65" fill="none" stroke="#dcdcdc" stroke-width="2.2"/>
<circle cx="99.6" cy="273" r="45.8" fill="none" stroke="#9c9c9c" stroke-width="3.6"/>
<rect x="97.8" y="227" width="3.6" height="46.5" fill="#9c9c9c" rx="0"/>
<text x="39.4" y="318.3" font-size="22" fill="#4d9fe6" text-anchor="start" font-weight="normal" textLength="11.5" lengthAdjust="spacingAndGlyphs" stroke="#4d9fe6" stroke-width="1.0">L</text>
<text x="150.6" y="318.3" font-size="22" fill="#4d9fe6" text-anchor="start" font-weight="normal" textLength="14.6" lengthAdjust="spacingAndGlyphs" stroke="#4d9fe6" stroke-width="1.0">R</text>
<text x="100" y="353.7" font-size="24" fill="#4ca3ee" text-anchor="middle" font-weight="normal" textLength="35" lengthAdjust="spacingAndGlyphs" stroke="#4ca3ee" stroke-width="0.8">0.0</text>
<rect x="11.6" y="412.70000000000005" width="168.60000000000002" height="37.89999999999996" fill="#1b1b1b" stroke="#303030" stroke-width="3.2" rx="5"/>
<text x="26" y="440" font-size="23" fill="#e6e6e6" text-anchor="start" font-weight="normal" textLength="51" lengthAdjust="spacingAndGlyphs" stroke="#e6e6e6" stroke-width="0.95">Read</text>
<polyline points="155.0,427.35 162.7,434.65 170.39999999999998,427.35" fill="none" stroke="#dcdcdc" stroke-width="2.2"/>
<rect x="37.5" y="461.09999999999997" width="35.4" height="34.700000000000024" fill="#1b1b1b" stroke="#2e2e2e" stroke-width="2.4" rx="4"/>
<path d="M48.1,486 V471.6 L55.5,480.5 L62.9,471.6 V486" fill="none" stroke="#d0d0d0" stroke-width="1.9" stroke-linejoin="miter"/>
<rect x="83.0" y="461.09999999999997" width="35.4" height="34.700000000000024" fill="#1b1b1b" stroke="#2e2e2e" stroke-width="2.4" rx="4"/>
<path d="M106.5,472 H98.0 Q95.8,472 95.8,474.2 V476.4 Q95.8,478.6 98.0,478.6 H104.0 Q106.2,478.6 106.2,480.8 V483 Q106.2,485.2 104.0,485.2 H95.2" fill="none" stroke="#d0d0d0" stroke-width="1.9" stroke-linejoin="miter"/>
<rect x="128.0" y="461.09999999999997" width="35.4" height="34.700000000000024" fill="#1b1b1b" stroke="#2e2e2e" stroke-width="2.4" rx="4"/>
<path d="M141.2,486.5 V472 H148.6 Q150.8,472 150.8,474.2 V476.6 Q150.8,478.8 148.6,478.8 H141.2 M146.5,478.8 L151.0,486.5" fill="none" stroke="#555555" stroke-width="1.9" stroke-linejoin="miter"/>
<linearGradient id="g2" gradientUnits="userSpaceOnUse" x1="0" y1="540.5" x2="0" y2="1045.7">
<stop offset="0.0000" stop-color="#ff6030"/>
<stop offset="0.0500" stop-color="#f09048"/>
<stop offset="0.0883" stop-color="#f4b044"/>
<stop offset="0.1200" stop-color="#f0e840"/>
<stop offset="0.1600" stop-color="#d0f048"/>
<stop offset="0.2000" stop-color="#a0e84a"/>
<stop offset="0.2417" stop-color="#70e44a"/>
<stop offset="0.2833" stop-color="#48e048"/>
<stop offset="0.3167" stop-color="#3ae042"/>
<stop offset="0.5000" stop-color="#3cd048"/>
<stop offset="1.0000" stop-color="#3aa64a"/>
</linearGradient>
<rect x="95.5" y="516.7" width="47.7" height="532.3" fill="#050505" rx="0"/>
<rect x="97.4" y="518.6" width="20.099999999999994" height="17.2" fill="#1e1e1e" rx="0"/>
<rect x="119.3" y="518.6" width="22.000000000000014" height="17.2" fill="#1e1e1e" rx="0"/>
<rect x="97.4" y="537.5" width="20.099999999999994" height="509.69999999999993" fill="#1f1f1f" rx="0"/>
<rect x="119.3" y="537.5" width="22.000000000000014" height="509.69999999999993" fill="#1f1f1f" rx="0"/>
<rect x="97.4" y="583.1" width="20.099999999999994" height="2.6" fill="#f4f0a8" rx="0"/>
<rect x="97.4" y="584.8" width="20.099999999999994" height="462.20000000000005" fill="url(#g2)" rx="0"/>
<rect x="119.3" y="583.4" width="22.000000000000014" height="2.6" fill="#f4f0a8" rx="0"/>
<rect x="119.3" y="587.3" width="22.000000000000014" height="459.70000000000005" fill="url(#g2)" rx="0"/>
<rect x="143.5" y="539.4" width="8.3" height="2.2" fill="#bdbdbd" rx="0"/>
<text x="160" y="547.7" font-size="20" fill="#c2c2c2" text-anchor="start" font-weight="normal" stroke="#c2c2c2" stroke-width="0.45">0</text>
<rect x="143.5" y="547.8199999999999" width="4.2" height="2.2" fill="#bdbdbd" rx="0"/>
<rect x="143.5" y="556.24" width="4.2" height="2.2" fill="#bdbdbd" rx="0"/>
<rect x="143.5" y="564.66" width="4.2" height="2.2" fill="#bdbdbd" rx="0"/>
<rect x="143.5" y="573.0799999999999" width="4.2" height="2.2" fill="#bdbdbd" rx="0"/>
<rect x="143.5" y="581.5" width="4.2" height="2.2" fill="#bdbdbd" rx="0"/>
<rect x="143.5" y="589.92" width="8.3" height="2.2" fill="#bdbdbd" rx="0"/>
<rect x="160" y="589.92" width="7.8" height="2.2" fill="#c2c2c2" rx="0"/>
<text x="170.4" y="598.22" font-size="20" fill="#c2c2c2" text-anchor="start" font-weight="normal" stroke="#c2c2c2" stroke-width="0.45">6</text>
<rect x="143.5" y="598.34" width="4.2" height="2.2" fill="#bdbdbd" rx="0"/>
<rect x="143.5" y="606.76" width="4.2" height="2.2" fill="#bdbdbd" rx="0"/>
<rect x="143.5" y="615.18" width="4.2" height="2.2" fill="#bdbdbd" rx="0"/>
<rect x="143.5" y="623.6" width="4.2" height="2.2" fill="#bdbdbd" rx="0"/>
<rect x="143.5" y="632.02" width="4.2" height="2.2" fill="#bdbdbd" rx="0"/>
<rect x="143.5" y="640.4399999999999" width="8.3" height="2.2" fill="#bdbdbd" rx="0"/>
<rect x="160" y="640.4399999999999" width="7.8" height="2.2" fill="#c2c2c2" rx="0"/>
<text x="170.4" y="648.74" font-size="20" fill="#c2c2c2" text-anchor="start" font-weight="normal" stroke="#c2c2c2" stroke-width="0.45">12</text>
<rect x="143.5" y="648.86" width="4.2" height="2.2" fill="#bdbdbd" rx="0"/>
<rect x="143.5" y="657.28" width="4.2" height="2.2" fill="#bdbdbd" rx="0"/>
<rect x="143.5" y="665.6999999999999" width="4.2" height="2.2" fill="#bdbdbd" rx="0"/>
<rect x="143.5" y="674.12" width="4.2" height="2.2" fill="#bdbdbd" rx="0"/>
<rect x="143.5" y="682.54" width="4.2" height="2.2" fill="#bdbdbd" rx="0"/>
<rect x="143.5" y="690.9599999999999" width="8.3" height="2.2" fill="#bdbdbd" rx="0"/>
<rect x="160" y="690.9599999999999" width="7.8" height="2.2" fill="#c2c2c2" rx="0"/>
<text x="170.4" y="699.26" font-size="20" fill="#c2c2c2" text-anchor="start" font-weight="normal" stroke="#c2c2c2" stroke-width="0.45">18</text>
<rect x="143.5" y="699.38" width="4.2" height="2.2" fill="#bdbdbd" rx="0"/>
<rect x="143.5" y="707.8" width="4.2" height="2.2" fill="#bdbdbd" rx="0"/>
<rect x="143.5" y="716.2199999999999" width="4.2" height="2.2" fill="#bdbdbd" rx="0"/>
<rect x="143.5" y="724.64" width="4.2" height="2.2" fill="#bdbdbd" rx="0"/>
<rect x="143.5" y="733.06" width="4.2" height="2.2" fill="#bdbdbd" rx="0"/>
<rect x="143.5" y="741.4799999999999" width="8.3" height="2.2" fill="#bdbdbd" rx="0"/>
<rect x="160" y="741.4799999999999" width="7.8" height="2.2" fill="#c2c2c2" rx="0"/>
<text x="170.4" y="749.78" font-size="20" fill="#c2c2c2" text-anchor="start" font-weight="normal" stroke="#c2c2c2" stroke-width="0.45">24</text>
<rect x="143.5" y="749.9" width="4.2" height="2.2" fill="#bdbdbd" rx="0"/>
<rect x="143.5" y="758.3199999999999" width="4.2" height="2.2" fill="#bdbdbd" rx="0"/>
<rect x="143.5" y="766.74" width="4.2" height="2.2" fill="#bdbdbd" rx="0"/>
<rect x="143.5" y="775.16" width="4.2" height="2.2" fill="#bdbdbd" rx="0"/>
<rect x="143.5" y="783.58" width="4.2" height="2.2" fill="#bdbdbd" rx="0"/>
<rect x="143.5" y="792.0" width="8.3" height="2.2" fill="#bdbdbd" rx="0"/>
<rect x="160" y="792.0" width="7.8" height="2.2" fill="#c2c2c2" rx="0"/>
<text x="170.4" y="800.3000000000001" font-size="20" fill="#c2c2c2" text-anchor="start" font-weight="normal" stroke="#c2c2c2" stroke-width="0.45">30</text>
<rect x="143.5" y="800.42" width="4.2" height="2.2" fill="#bdbdbd" rx="0"/>
<rect x="143.5" y="808.84" width="4.2" height="2.2" fill="#bdbdbd" rx="0"/>
<rect x="143.5" y="817.26" width="4.2" height="2.2" fill="#bdbdbd" rx="0"/>
<rect x="143.5" y="825.68" width="4.2" height="2.2" fill="#bdbdbd" rx="0"/>
<rect x="143.5" y="834.1" width="4.2" height="2.2" fill="#bdbdbd" rx="0"/>
<rect x="143.5" y="842.52" width="8.3" height="2.2" fill="#bdbdbd" rx="0"/>
<rect x="160" y="842.52" width="7.8" height="2.2" fill="#c2c2c2" rx="0"/>
<text x="170.4" y="850.82" font-size="20" fill="#c2c2c2" text-anchor="start" font-weight="normal" stroke="#c2c2c2" stroke-width="0.45">36</text>
<rect x="143.5" y="850.9399999999999" width="4.2" height="2.2" fill="#bdbdbd" rx="0"/>
<rect x="143.5" y="859.36" width="4.2" height="2.2" fill="#bdbdbd" rx="0"/>
<rect x="143.5" y="867.78" width="4.2" height="2.2" fill="#bdbdbd" rx="0"/>
<rect x="143.5" y="876.1999999999999" width="4.2" height="2.2" fill="#bdbdbd" rx="0"/>
<rect x="143.5" y="884.62" width="4.2" height="2.2" fill="#bdbdbd" rx="0"/>
<rect x="143.5" y="893.04" width="8.3" height="2.2" fill="#bdbdbd" rx="0"/>
<rect x="160" y="893.04" width="7.8" height="2.2" fill="#c2c2c2" rx="0"/>
<text x="170.4" y="901.34" font-size="20" fill="#c2c2c2" text-anchor="start" font-weight="normal" stroke="#c2c2c2" stroke-width="0.45">42</text>
<rect x="143.5" y="901.4599999999999" width="4.2" height="2.2" fill="#bdbdbd" rx="0"/>
<rect x="143.5" y="909.88" width="4.2" height="2.2" fill="#bdbdbd" rx="0"/>
<rect x="143.5" y="918.3" width="4.2" height="2.2" fill="#bdbdbd" rx="0"/>
<rect x="143.5" y="926.7199999999999" width="4.2" height="2.2" fill="#bdbdbd" rx="0"/>
<rect x="143.5" y="935.14" width="4.2" height="2.2" fill="#bdbdbd" rx="0"/>
<rect x="143.5" y="943.56" width="8.3" height="2.2" fill="#bdbdbd" rx="0"/>
<rect x="160" y="943.56" width="7.8" height="2.2" fill="#c2c2c2" rx="0"/>
<text x="170.4" y="951.86" font-size="20" fill="#c2c2c2" text-anchor="start" font-weight="normal" stroke="#c2c2c2" stroke-width="0.45">48</text>
<rect x="143.5" y="951.9799999999999" width="4.2" height="2.2" fill="#bdbdbd" rx="0"/>
<rect x="143.5" y="960.4" width="4.2" height="2.2" fill="#bdbdbd" rx="0"/>
<rect x="143.5" y="968.82" width="4.2" height="2.2" fill="#bdbdbd" rx="0"/>
<rect x="143.5" y="977.2399999999999" width="4.2" height="2.2" fill="#bdbdbd" rx="0"/>
<rect x="143.5" y="985.66" width="4.2" height="2.2" fill="#bdbdbd" rx="0"/>
<rect x="143.5" y="994.08" width="8.3" height="2.2" fill="#bdbdbd" rx="0"/>
<rect x="160" y="994.08" width="7.8" height="2.2" fill="#c2c2c2" rx="0"/>
<text x="170.4" y="1002.3800000000001" font-size="20" fill="#c2c2c2" text-anchor="start" font-weight="normal" stroke="#c2c2c2" stroke-width="0.45">54</text>
<rect x="143.5" y="1002.5" width="4.2" height="2.2" fill="#bdbdbd" rx="0"/>
<rect x="143.5" y="1010.92" width="4.2" height="2.2" fill="#bdbdbd" rx="0"/>
<rect x="143.5" y="1019.34" width="4.2" height="2.2" fill="#bdbdbd" rx="0"/>
<rect x="143.5" y="1027.7600000000002" width="4.2" height="2.2" fill="#bdbdbd" rx="0"/>
<rect x="143.5" y="1036.18" width="4.2" height="2.2" fill="#bdbdbd" rx="0"/>
<rect x="143.5" y="1044.6000000000001" width="8.3" height="2.2" fill="#bdbdbd" rx="0"/>
<text x="159.5" y="1043.28" font-size="18.5" fill="#c2c2c2" text-anchor="start" font-weight="normal" stroke="#c2c2c2" stroke-width="0.45">dB</text>
<text x="52.5" y="535" font-size="16.5" fill="#c2c2c2" text-anchor="end" font-weight="normal" stroke="#c2c2c2" stroke-width="0.45">dB</text>
<rect x="67.2" y="539.6" width="5" height="497" fill="#050505" rx="0"/>
<rect x="58" y="549.9" width="8" height="2.2" fill="#b8b8b8" rx="0"/>
<rect x="72.6" y="549.9" width="6.6" height="2.2" fill="#b8b8b8" rx="0"/>
<text x="52.6" y="558.2" font-size="20" fill="#c2c2c2" text-anchor="end" font-weight="normal" stroke="#c2c2c2" stroke-width="0.45">6</text>
<rect x="58" y="585.3" width="8" height="2.2" fill="#b8b8b8" rx="0"/>
<rect x="72.6" y="585.3" width="6.6" height="2.2" fill="#b8b8b8" rx="0"/>
<text x="52.6" y="593.6" font-size="20" fill="#c2c2c2" text-anchor="end" font-weight="normal" stroke="#c2c2c2" stroke-width="0.45">4</text>
<rect x="58" y="624.5" width="8" height="2.2" fill="#b8b8b8" rx="0"/>
<rect x="72.6" y="624.5" width="6.6" height="2.2" fill="#b8b8b8" rx="0"/>
<text x="52.6" y="632.8000000000001" font-size="20" fill="#c2c2c2" text-anchor="end" font-weight="normal" stroke="#c2c2c2" stroke-width="0.45">2</text>
<rect x="58" y="667.9" width="8" height="2.2" fill="#b8b8b8" rx="0"/>
<rect x="72.6" y="667.9" width="6.6" height="2.2" fill="#b8b8b8" rx="0"/>
<text x="52.6" y="676.2" font-size="20" fill="#c2c2c2" text-anchor="end" font-weight="normal" stroke="#c2c2c2" stroke-width="0.45">0</text>
<rect x="58" y="734.5" width="8" height="2.2" fill="#b8b8b8" rx="0"/>
<rect x="72.6" y="734.5" width="6.6" height="2.2" fill="#b8b8b8" rx="0"/>
<text x="52.6" y="742.8000000000001" font-size="20" fill="#c2c2c2" text-anchor="end" font-weight="normal" stroke="#c2c2c2" stroke-width="0.45">3</text>
<rect x="30.480000000000004" y="734.5" width="8.4" height="2.2" fill="#c2c2c2" rx="0"/>
<rect x="58" y="788.3" width="8" height="2.2" fill="#b8b8b8" rx="0"/>
<rect x="72.6" y="788.3" width="6.6" height="2.2" fill="#b8b8b8" rx="0"/>
<text x="52.6" y="796.6" font-size="20" fill="#c2c2c2" text-anchor="end" font-weight="normal" stroke="#c2c2c2" stroke-width="0.45">6</text>
<rect x="30.480000000000004" y="788.3" width="8.4" height="2.2" fill="#c2c2c2" rx="0"/>
<rect x="58" y="831.5" width="8" height="2.2" fill="#b8b8b8" rx="0"/>
<rect x="72.6" y="831.5" width="6.6" height="2.2" fill="#b8b8b8" rx="0"/>
<text x="52.6" y="839.8000000000001" font-size="20" fill="#c2c2c2" text-anchor="end" font-weight="normal" stroke="#c2c2c2" stroke-width="0.45">9</text>
<rect x="30.480000000000004" y="831.5" width="8.4" height="2.2" fill="#c2c2c2" rx="0"/>
<rect x="58" y="866.9" width="8" height="2.2" fill="#b8b8b8" rx="0"/>
<rect x="72.6" y="866.9" width="6.6" height="2.2" fill="#b8b8b8" rx="0"/>
<text x="52.6" y="875.2" font-size="20" fill="#c2c2c2" text-anchor="end" font-weight="normal" stroke="#c2c2c2" stroke-width="0.45">12</text>
<rect x="19.36" y="866.9" width="8.4" height="2.2" fill="#c2c2c2" rx="0"/>
<rect x="58" y="895.9" width="8" height="2.2" fill="#b8b8b8" rx="0"/>
<rect x="72.6" y="895.9" width="6.6" height="2.2" fill="#b8b8b8" rx="0"/>
<text x="52.6" y="904.2" font-size="20" fill="#c2c2c2" text-anchor="end" font-weight="normal" stroke="#c2c2c2" stroke-width="0.45">15</text>
<rect x="19.36" y="895.9" width="8.4" height="2.2" fill="#c2c2c2" rx="0"/>
<rect x="58" y="918.5" width="8" height="2.2" fill="#b8b8b8" rx="0"/>
<rect x="72.6" y="918.5" width="6.6" height="2.2" fill="#b8b8b8" rx="0"/>
<text x="52.6" y="926.8000000000001" font-size="20" fill="#c2c2c2" text-anchor="end" font-weight="normal" stroke="#c2c2c2" stroke-width="0.45">18</text>
<rect x="19.36" y="918.5" width="8.4" height="2.2" fill="#c2c2c2" rx="0"/>
<rect x="58" y="953.9" width="8" height="2.2" fill="#b8b8b8" rx="0"/>
<rect x="72.6" y="953.9" width="6.6" height="2.2" fill="#b8b8b8" rx="0"/>
<text x="52.6" y="962.2" font-size="20" fill="#c2c2c2" text-anchor="end" font-weight="normal" stroke="#c2c2c2" stroke-width="0.45">24</text>
<rect x="19.36" y="953.9" width="8.4" height="2.2" fill="#c2c2c2" rx="0"/>
<rect x="58" y="986.9" width="8" height="2.2" fill="#b8b8b8" rx="0"/>
<rect x="72.6" y="986.9" width="6.6" height="2.2" fill="#b8b8b8" rx="0"/>
<text x="52.6" y="995.2" font-size="20" fill="#c2c2c2" text-anchor="end" font-weight="normal" stroke="#c2c2c2" stroke-width="0.45">33</text>
<rect x="19.36" y="986.9" width="8.4" height="2.2" fill="#c2c2c2" rx="0"/>
<rect x="58" y="1009.9" width="8" height="2.2" fill="#b8b8b8" rx="0"/>
<rect x="72.6" y="1009.9" width="6.6" height="2.2" fill="#b8b8b8" rx="0"/>
<rect x="58" y="1024.6000000000001" width="8" height="2.2" fill="#b8b8b8" rx="0"/>
<rect x="72.6" y="1024.6000000000001" width="6.6" height="2.2" fill="#b8b8b8" rx="0"/>
<text x="52.6" y="1032.9" font-size="20" fill="#c2c2c2" text-anchor="end" font-weight="normal" stroke="#c2c2c2" stroke-width="0.45">∞</text>
<rect x="27.340000000000003" y="1024.6000000000001" width="8.4" height="2.2" fill="#c2c2c2" rx="0"/>
<rect x="64.3" y="567" width="2" height="2" fill="#a8a8a8" rx="0"/>
<rect x="64.3" y="593" width="2" height="2" fill="#a8a8a8" rx="0"/>
<rect x="64.3" y="603.4" width="2" height="2" fill="#a8a8a8" rx="0"/>
<rect x="64.3" y="614" width="2" height="2" fill="#a8a8a8" rx="0"/>
<rect x="64.3" y="713.4" width="2" height="2" fill="#a8a8a8" rx="0"/>
<rect x="64.3" y="753" width="2" height="2" fill="#a8a8a8" rx="0"/>
<rect x="64.3" y="771.6" width="2" height="2" fill="#a8a8a8" rx="0"/>
<rect x="64.3" y="803" width="2" height="2" fill="#a8a8a8" rx="0"/>
<rect x="64.3" y="817.6" width="2" height="2" fill="#a8a8a8" rx="0"/>
<rect x="64.3" y="844.6" width="2" height="2" fill="#a8a8a8" rx="0"/>
<rect x="64.3" y="854" width="2" height="2" fill="#a8a8a8" rx="0"/>
<rect x="64.3" y="877" width="2" height="2" fill="#a8a8a8" rx="0"/>
<rect x="64.3" y="886" width="2" height="2" fill="#a8a8a8" rx="0"/>
<rect x="64.3" y="904" width="2" height="2" fill="#a8a8a8" rx="0"/>
<rect x="64.3" y="912" width="2" height="2" fill="#a8a8a8" rx="0"/>
<rect x="64.3" y="925" width="2" height="2" fill="#a8a8a8" rx="0"/>
<rect x="64.3" y="932" width="2" height="2" fill="#a8a8a8" rx="0"/>
<rect x="64.3" y="938" width="2" height="2" fill="#a8a8a8" rx="0"/>
<rect x="64.3" y="944" width="2" height="2" fill="#a8a8a8" rx="0"/>
<rect x="64.3" y="967" width="2" height="2" fill="#a8a8a8" rx="0"/>
<rect x="64.3" y="977" width="2" height="2" fill="#a8a8a8" rx="0"/>
<rect x="64.3" y="997" width="2" height="2" fill="#a8a8a8" rx="0"/>
<rect x="64.3" y="1002" width="2" height="2" fill="#a8a8a8" rx="0"/>
<rect x="57.7" y="638.5" width="23.6" height="61" fill="#232323" stroke="#a2a2a2" stroke-width="3.4" rx="4"/>
<rect x="64.5" y="667.5" width="10" height="3" fill="#a8a8a8" rx="1"/>
<text x="29.8" y="1086.6" font-size="24" fill="#4ca3ee" text-anchor="start" font-weight="normal" textLength="34" lengthAdjust="spacingAndGlyphs" stroke="#4ca3ee" stroke-width="0.8">0.0</text>
<text x="94" y="1086.6" font-size="24" fill="#c4c4c4" text-anchor="start" font-weight="normal" textLength="47" lengthAdjust="spacingAndGlyphs" stroke="#c4c4c4" stroke-width="0.45">–5.1</text>
<text x="17.4" y="1131.5" font-size="23" fill="#c4c4c4" text-anchor="start" font-weight="normal" textLength="29.5" lengthAdjust="spacingAndGlyphs" stroke="#c4c4c4" stroke-width="0.45">A3</text>
<rect x="64.5" y="1104.5" width="124" height="37" fill="#1a1a1a" stroke="#2c2c2c" stroke-width="3" rx="5"/>
<text x="125.3" y="1130.8" font-size="23" fill="#dedede" text-anchor="middle" font-weight="normal" textLength="84.5" lengthAdjust="spacingAndGlyphs" stroke="#dedede" stroke-width="0.45">Audio 3</text>
</g>
<g transform="translate(591,0)">
<rect x="12.0" y="170.2" width="169.1" height="37.8" fill="#1b1b1b" stroke="#303030" stroke-width="3.2" rx="5"/>
<text x="25" y="198" font-size="23" fill="#e2e2e2" text-anchor="start" font-weight="normal" textLength="74" lengthAdjust="spacingAndGlyphs" stroke="#e2e2e2" stroke-width="0.45">Master</text>
<polyline points="155.0,184.65 162.7,191.95000000000002 170.39999999999998,184.65" fill="none" stroke="#dcdcdc" stroke-width="2.2"/>
<circle cx="99.6" cy="273" r="45.8" fill="none" stroke="#9c9c9c" stroke-width="3.6"/>
<rect x="97.8" y="227" width="3.6" height="46.5" fill="#9c9c9c" rx="0"/>
<text x="39.4" y="318.3" font-size="22" fill="#4d9fe6" text-anchor="start" font-weight="normal" textLength="11.5" lengthAdjust="spacingAndGlyphs" stroke="#4d9fe6" stroke-width="1.0">L</text>
<text x="150.6" y="318.3" font-size="22" fill="#4d9fe6" text-anchor="start" font-weight="normal" textLength="14.6" lengthAdjust="spacingAndGlyphs" stroke="#4d9fe6" stroke-width="1.0">R</text>
<text x="100" y="353.7" font-size="24" fill="#4ca3ee" text-anchor="middle" font-weight="normal" textLength="35" lengthAdjust="spacingAndGlyphs" stroke="#4ca3ee" stroke-width="0.8">0.0</text>
<rect x="11.6" y="412.70000000000005" width="168.60000000000002" height="37.89999999999996" fill="#1b1b1b" stroke="#303030" stroke-width="3.2" rx="5"/>
<text x="26" y="440" font-size="23" fill="#e6e6e6" text-anchor="start" font-weight="normal" textLength="51" lengthAdjust="spacingAndGlyphs" stroke="#e6e6e6" stroke-width="0.95">Read</text>
<polyline points="155.0,427.35 162.7,434.65 170.39999999999998,427.35" fill="none" stroke="#dcdcdc" stroke-width="2.2"/>
<rect x="37.5" y="461.09999999999997" width="35.4" height="34.700000000000024" fill="#1b1b1b" stroke="#2e2e2e" stroke-width="2.4" rx="4"/>
<path d="M48.1,486 V471.6 L55.5,480.5 L62.9,471.6 V486" fill="none" stroke="#d0d0d0" stroke-width="1.9" stroke-linejoin="miter"/>
<rect x="83.0" y="461.09999999999997" width="35.4" height="34.700000000000024" fill="#1b1b1b" stroke="#2e2e2e" stroke-width="2.4" rx="4"/>
<path d="M106.5,472 H98.0 Q95.8,472 95.8,474.2 V476.4 Q95.8,478.6 98.0,478.6 H104.0 Q106.2,478.6 106.2,480.8 V483 Q106.2,485.2 104.0,485.2 H95.2" fill="none" stroke="#d0d0d0" stroke-width="1.9" stroke-linejoin="miter"/>
<linearGradient id="g3" gradientUnits="userSpaceOnUse" x1="0" y1="540.5" x2="0" y2="1045.7">
<stop offset="0.0000" stop-color="#ff6030"/>
<stop offset="0.0500" stop-color="#f09048"/>
<stop offset="0.0883" stop-color="#f4b044"/>
<stop offset="0.1200" stop-color="#f0e840"/>
<stop offset="0.1600" stop-color="#d0f048"/>
<stop offset="0.2000" stop-color="#a0e84a"/>
<stop offset="0.2417" stop-color="#70e44a"/>
<stop offset="0.2833" stop-color="#48e048"/>
<stop offset="0.3167" stop-color="#3ae042"/>
<stop offset="0.5000" stop-color="#3cd048"/>
<stop offset="1.0000" stop-color="#3aa64a"/>
</linearGradient>
<rect x="95.5" y="516.7" width="47.7" height="532.3" fill="#050505" rx="0"/>
<rect x="97.4" y="518.6" width="20.099999999999994" height="17.2" fill="#1e1e1e" rx="0"/>
<rect x="119.3" y="518.6" width="22.000000000000014" height="17.2" fill="#1e1e1e" rx="0"/>
<rect x="97.4" y="537.5" width="20.099999999999994" height="509.69999999999993" fill="#1f1f1f" rx="0"/>
<rect x="119.3" y="537.5" width="22.000000000000014" height="509.69999999999993" fill="#1f1f1f" rx="0"/>
<rect x="97.4" y="572.7" width="20.099999999999994" height="2.6" fill="#f4f0a8" rx="0"/>
<rect x="97.4" y="576.5" width="20.099999999999994" height="470.5" fill="url(#g3)" rx="0"/>
<rect x="119.3" y="574.5" width="22.000000000000014" height="2.6" fill="#f4f0a8" rx="0"/>
<rect x="119.3" y="580.9" width="22.000000000000014" height="466.1" fill="url(#g3)" rx="0"/>
<rect x="143.5" y="539.4" width="8.3" height="2.2" fill="#bdbdbd" rx="0"/>
<text x="160" y="547.7" font-size="20" fill="#c2c2c2" text-anchor="start" font-weight="normal" stroke="#c2c2c2" stroke-width="0.45">0</text>
<rect x="143.5" y="547.8199999999999" width="4.2" height="2.2" fill="#bdbdbd" rx="0"/>
<rect x="143.5" y="556.24" width="4.2" height="2.2" fill="#bdbdbd" rx="0"/>
<rect x="143.5" y="564.66" width="4.2" height="2.2" fill="#bdbdbd" rx="0"/>
<rect x="143.5" y="573.0799999999999" width="4.2" height="2.2" fill="#bdbdbd" rx="0"/>
<rect x="143.5" y="581.5" width="4.2" height="2.2" fill="#bdbdbd" rx="0"/>
<rect x="143.5" y="589.92" width="8.3" height="2.2" fill="#bdbdbd" rx="0"/>
<rect x="160" y="589.92" width="7.8" height="2.2" fill="#c2c2c2" rx="0"/>
<text x="170.4" y="598.22" font-size="20" fill="#c2c2c2" text-anchor="start" font-weight="normal" stroke="#c2c2c2" stroke-width="0.45">6</text>
<rect x="143.5" y="598.34" width="4.2" height="2.2" fill="#bdbdbd" rx="0"/>
<rect x="143.5" y="606.76" width="4.2" height="2.2" fill="#bdbdbd" rx="0"/>
<rect x="143.5" y="615.18" width="4.2" height="2.2" fill="#bdbdbd" rx="0"/>
<rect x="143.5" y="623.6" width="4.2" height="2.2" fill="#bdbdbd" rx="0"/>
<rect x="143.5" y="632.02" width="4.2" height="2.2" fill="#bdbdbd" rx="0"/>
<rect x="143.5" y="640.4399999999999" width="8.3" height="2.2" fill="#bdbdbd" rx="0"/>
<rect x="160" y="640.4399999999999" width="7.8" height="2.2" fill="#c2c2c2" rx="0"/>
<text x="170.4" y="648.74" font-size="20" fill="#c2c2c2" text-anchor="start" font-weight="normal" stroke="#c2c2c2" stroke-width="0.45">12</text>
<rect x="143.5" y="648.86" width="4.2" height="2.2" fill="#bdbdbd" rx="0"/>
<rect x="143.5" y="657.28" width="4.2" height="2.2" fill="#bdbdbd" rx="0"/>
<rect x="143.5" y="665.6999999999999" width="4.2" height="2.2" fill="#bdbdbd" rx="0"/>
<rect x="143.5" y="674.12" width="4.2" height="2.2" fill="#bdbdbd" rx="0"/>
<rect x="143.5" y="682.54" width="4.2" height="2.2" fill="#bdbdbd" rx="0"/>
<rect x="143.5" y="690.9599999999999" width="8.3" height="2.2" fill="#bdbdbd" rx="0"/>
<rect x="160" y="690.9599999999999" width="7.8" height="2.2" fill="#c2c2c2" rx="0"/>
<text x="170.4" y="699.26" font-size="20" fill="#c2c2c2" text-anchor="start" font-weight="normal" stroke="#c2c2c2" stroke-width="0.45">18</text>
<rect x="143.5" y="699.38" width="4.2" height="2.2" fill="#bdbdbd" rx="0"/>
<rect x="143.5" y="707.8" width="4.2" height="2.2" fill="#bdbdbd" rx="0"/>
<rect x="143.5" y="716.2199999999999" width="4.2" height="2.2" fill="#bdbdbd" rx="0"/>
<rect x="143.5" y="724.64" width="4.2" height="2.2" fill="#bdbdbd" rx="0"/>
<rect x="143.5" y="733.06" width="4.2" height="2.2" fill="#bdbdbd" rx="0"/>
<rect x="143.5" y="741.4799999999999" width="8.3" height="2.2" fill="#bdbdbd" rx="0"/>
<rect x="160" y="741.4799999999999" width="7.8" height="2.2" fill="#c2c2c2" rx="0"/>
<text x="170.4" y="749.78" font-size="20" fill="#c2c2c2" text-anchor="start" font-weight="normal" stroke="#c2c2c2" stroke-width="0.45">24</text>
<rect x="143.5" y="749.9" width="4.2" height="2.2" fill="#bdbdbd" rx="0"/>
<rect x="143.5" y="758.3199999999999" width="4.2" height="2.2" fill="#bdbdbd" rx="0"/>
<rect x="143.5" y="766.74" width="4.2" height="2.2" fill="#bdbdbd" rx="0"/>
<rect x="143.5" y="775.16" width="4.2" height="2.2" fill="#bdbdbd" rx="0"/>
<rect x="143.5" y="783.58" width="4.2" height="2.2" fill="#bdbdbd" rx="0"/>
<rect x="143.5" y="792.0" width="8.3" height="2.2" fill="#bdbdbd" rx="0"/>
<rect x="160" y="792.0" width="7.8" height="2.2" fill="#c2c2c2" rx="0"/>
<text x="170.4" y="800.3000000000001" font-size="20" fill="#c2c2c2" text-anchor="start" font-weight="normal" stroke="#c2c2c2" stroke-width="0.45">30</text>
<rect x="143.5" y="800.42" width="4.2" height="2.2" fill="#bdbdbd" rx="0"/>
<rect x="143.5" y="808.84" width="4.2" height="2.2" fill="#bdbdbd" rx="0"/>
<rect x="143.5" y="817.26" width="4.2" height="2.2" fill="#bdbdbd" rx="0"/>
<rect x="143.5" y="825.68" width="4.2" height="2.2" fill="#bdbdbd" rx="0"/>
<rect x="143.5" y="834.1" width="4.2" height="2.2" fill="#bdbdbd" rx="0"/>
<rect x="143.5" y="842.52" width="8.3" height="2.2" fill="#bdbdbd" rx="0"/>
<rect x="160" y="842.52" width="7.8" height="2.2" fill="#c2c2c2" rx="0"/>
<text x="170.4" y="850.82" font-size="20" fill="#c2c2c2" text-anchor="start" font-weight="normal" stroke="#c2c2c2" stroke-width="0.45">36</text>
<rect x="143.5" y="850.9399999999999" width="4.2" height="2.2" fill="#bdbdbd" rx="0"/>
<rect x="143.5" y="859.36" width="4.2" height="2.2" fill="#bdbdbd" rx="0"/>
<rect x="143.5" y="867.78" width="4.2" height="2.2" fill="#bdbdbd" rx="0"/>
<rect x="143.5" y="876.1999999999999" width="4.2" height="2.2" fill="#bdbdbd" rx="0"/>
<rect x="143.5" y="884.62" width="4.2" height="2.2" fill="#bdbdbd" rx="0"/>
<rect x="143.5" y="893.04" width="8.3" height="2.2" fill="#bdbdbd" rx="0"/>
<rect x="160" y="893.04" width="7.8" height="2.2" fill="#c2c2c2" rx="0"/>
<text x="170.4" y="901.34" font-size="20" fill="#c2c2c2" text-anchor="start" font-weight="normal" stroke="#c2c2c2" stroke-width="0.45">42</text>
<rect x="143.5" y="901.4599999999999" width="4.2" height="2.2" fill="#bdbdbd" rx="0"/>
<rect x="143.5" y="909.88" width="4.2" height="2.2" fill="#bdbdbd" rx="0"/>
<rect x="143.5" y="918.3" width="4.2" height="2.2" fill="#bdbdbd" rx="0"/>
<rect x="143.5" y="926.7199999999999" width="4.2" height="2.2" fill="#bdbdbd" rx="0"/>
<rect x="143.5" y="935.14" width="4.2" height="2.2" fill="#bdbdbd" rx="0"/>
<rect x="143.5" y="943.56" width="8.3" height="2.2" fill="#bdbdbd" rx="0"/>
<rect x="160" y="943.56" width="7.8" height="2.2" fill="#c2c2c2" rx="0"/>
<text x="170.4" y="951.86" font-size="20" fill="#c2c2c2" text-anchor="start" font-weight="normal" stroke="#c2c2c2" stroke-width="0.45">48</text>
<rect x="143.5" y="951.9799999999999" width="4.2" height="2.2" fill="#bdbdbd" rx="0"/>
<rect x="143.5" y="960.4" width="4.2" height="2.2" fill="#bdbdbd" rx="0"/>
<rect x="143.5" y="968.82" width="4.2" height="2.2" fill="#bdbdbd" rx="0"/>
<rect x="143.5" y="977.2399999999999" width="4.2" height="2.2" fill="#bdbdbd" rx="0"/>
<rect x="143.5" y="985.66" width="4.2" height="2.2" fill="#bdbdbd" rx="0"/>
<rect x="143.5" y="994.08" width="8.3" height="2.2" fill="#bdbdbd" rx="0"/>
<rect x="160" y="994.08" width="7.8" height="2.2" fill="#c2c2c2" rx="0"/>
<text x="170.4" y="1002.3800000000001" font-size="20" fill="#c2c2c2" text-anchor="start" font-weight="normal" stroke="#c2c2c2" stroke-width="0.45">54</text>
<rect x="143.5" y="1002.5" width="4.2" height="2.2" fill="#bdbdbd" rx="0"/>
<rect x="143.5" y="1010.92" width="4.2" height="2.2" fill="#bdbdbd" rx="0"/>
<rect x="143.5" y="1019.34" width="4.2" height="2.2" fill="#bdbdbd" rx="0"/>
<rect x="143.5" y="1027.7600000000002" width="4.2" height="2.2" fill="#bdbdbd" rx="0"/>
<rect x="143.5" y="1036.18" width="4.2" height="2.2" fill="#bdbdbd" rx="0"/>
<rect x="143.5" y="1044.6000000000001" width="8.3" height="2.2" fill="#bdbdbd" rx="0"/>
<text x="159.5" y="1043.28" font-size="18.5" fill="#c2c2c2" text-anchor="start" font-weight="normal" stroke="#c2c2c2" stroke-width="0.45">dB</text>
<text x="52.5" y="535" font-size="16.5" fill="#c2c2c2" text-anchor="end" font-weight="normal" stroke="#c2c2c2" stroke-width="0.45">dB</text>
<rect x="67.2" y="539.6" width="5" height="497" fill="#050505" rx="0"/>
<rect x="58" y="549.9" width="8" height="2.2" fill="#b8b8b8" rx="0"/>
<rect x="72.6" y="549.9" width="6.6" height="2.2" fill="#b8b8b8" rx="0"/>
<text x="52.6" y="558.2" font-size="20" fill="#c2c2c2" text-anchor="end" font-weight="normal" stroke="#c2c2c2" stroke-width="0.45">6</text>
<rect x="58" y="585.3" width="8" height="2.2" fill="#b8b8b8" rx="0"/>
<rect x="72.6" y="585.3" width="6.6" height="2.2" fill="#b8b8b8" rx="0"/>
<text x="52.6" y="593.6" font-size="20" fill="#c2c2c2" text-anchor="end" font-weight="normal" stroke="#c2c2c2" stroke-width="0.45">4</text>
<rect x="58" y="624.5" width="8" height="2.2" fill="#b8b8b8" rx="0"/>
<rect x="72.6" y="624.5" width="6.6" height="2.2" fill="#b8b8b8" rx="0"/>
<text x="52.6" y="632.8000000000001" font-size="20" fill="#c2c2c2" text-anchor="end" font-weight="normal" stroke="#c2c2c2" stroke-width="0.45">2</text>
<rect x="58" y="667.9" width="8" height="2.2" fill="#b8b8b8" rx="0"/>
<rect x="72.6" y="667.9" width="6.6" height="2.2" fill="#b8b8b8" rx="0"/>
<text x="52.6" y="676.2" font-size="20" fill="#c2c2c2" text-anchor="end" font-weight="normal" stroke="#c2c2c2" stroke-width="0.45">0</text>
<rect x="58" y="734.5" width="8" height="2.2" fill="#b8b8b8" rx="0"/>
<rect x="72.6" y="734.5" width="6.6" height="2.2" fill="#b8b8b8" rx="0"/>
<text x="52.6" y="742.8000000000001" font-size="20" fill="#c2c2c2" text-anchor="end" font-weight="normal" stroke="#c2c2c2" stroke-width="0.45">3</text>
<rect x="30.480000000000004" y="734.5" width="8.4" height="2.2" fill="#c2c2c2" rx="0"/>
<rect x="58" y="788.3" width="8" height="2.2" fill="#b8b8b8" rx="0"/>
<rect x="72.6" y="788.3" width="6.6" height="2.2" fill="#b8b8b8" rx="0"/>
<text x="52.6" y="796.6" font-size="20" fill="#c2c2c2" text-anchor="end" font-weight="normal" stroke="#c2c2c2" stroke-width="0.45">6</text>
<rect x="30.480000000000004" y="788.3" width="8.4" height="2.2" fill="#c2c2c2" rx="0"/>
<rect x="58" y="831.5" width="8" height="2.2" fill="#b8b8b8" rx="0"/>
<rect x="72.6" y="831.5" width="6.6" height="2.2" fill="#b8b8b8" rx="0"/>
<text x="52.6" y="839.8000000000001" font-size="20" fill="#c2c2c2" text-anchor="end" font-weight="normal" stroke="#c2c2c2" stroke-width="0.45">9</text>
<rect x="30.480000000000004" y="831.5" width="8.4" height="2.2" fill="#c2c2c2" rx="0"/>
<rect x="58" y="866.9" width="8" height="2.2" fill="#b8b8b8" rx="0"/>
<rect x="72.6" y="866.9" width="6.6" height="2.2" fill="#b8b8b8" rx="0"/>
<text x="52.6" y="875.2" font-size="20" fill="#c2c2c2" text-anchor="end" font-weight="normal" stroke="#c2c2c2" stroke-width="0.45">12</text>
<rect x="19.36" y="866.9" width="8.4" height="2.2" fill="#c2c2c2" rx="0"/>
<rect x="58" y="895.9" width="8" height="2.2" fill="#b8b8b8" rx="0"/>
<rect x="72.6" y="895.9" width="6.6" height="2.2" fill="#b8b8b8" rx="0"/>
<text x="52.6" y="904.2" font-size="20" fill="#c2c2c2" text-anchor="end" font-weight="normal" stroke="#c2c2c2" stroke-width="0.45">15</text>
<rect x="19.36" y="895.9" width="8.4" height="2.2" fill="#c2c2c2" rx="0"/>
<rect x="58" y="918.5" width="8" height="2.2" fill="#b8b8b8" rx="0"/>
<rect x="72.6" y="918.5" width="6.6" height="2.2" fill="#b8b8b8" rx="0"/>
<text x="52.6" y="926.8000000000001" font-size="20" fill="#c2c2c2" text-anchor="end" font-weight="normal" stroke="#c2c2c2" stroke-width="0.45">18</text>
<rect x="19.36" y="918.5" width="8.4" height="2.2" fill="#c2c2c2" rx="0"/>
<rect x="58" y="953.9" width="8" height="2.2" fill="#b8b8b8" rx="0"/>
<rect x="72.6" y="953.9" width="6.6" height="2.2" fill="#b8b8b8" rx="0"/>
<text x="52.6" y="962.2" font-size="20" fill="#c2c2c2" text-anchor="end" font-weight="normal" stroke="#c2c2c2" stroke-width="0.45">24</text>
<rect x="19.36" y="953.9" width="8.4" height="2.2" fill="#c2c2c2" rx="0"/>
<rect x="58" y="986.9" width="8" height="2.2" fill="#b8b8b8" rx="0"/>
<rect x="72.6" y="986.9" width="6.6" height="2.2" fill="#b8b8b8" rx="0"/>
<text x="52.6" y="995.2" font-size="20" fill="#c2c2c2" text-anchor="end" font-weight="normal" stroke="#c2c2c2" stroke-width="0.45">33</text>
<rect x="19.36" y="986.9" width="8.4" height="2.2" fill="#c2c2c2" rx="0"/>
<rect x="58" y="1009.9" width="8" height="2.2" fill="#b8b8b8" rx="0"/>
<rect x="72.6" y="1009.9" width="6.6" height="2.2" fill="#b8b8b8" rx="0"/>
<rect x="58" y="1024.6000000000001" width="8" height="2.2" fill="#b8b8b8" rx="0"/>
<rect x="72.6" y="1024.6000000000001" width="6.6" height="2.2" fill="#b8b8b8" rx="0"/>
<text x="52.6" y="1032.9" font-size="20" fill="#c2c2c2" text-anchor="end" font-weight="normal" stroke="#c2c2c2" stroke-width="0.45">∞</text>
<rect x="27.340000000000003" y="1024.6000000000001" width="8.4" height="2.2" fill="#c2c2c2" rx="0"/>
<rect x="64.3" y="567" width="2" height="2" fill="#a8a8a8" rx="0"/>
<rect x="64.3" y="593" width="2" height="2" fill="#a8a8a8" rx="0"/>
<rect x="64.3" y="603.4" width="2" height="2" fill="#a8a8a8" rx="0"/>
<rect x="64.3" y="614" width="2" height="2" fill="#a8a8a8" rx="0"/>
<rect x="64.3" y="713.4" width="2" height="2" fill="#a8a8a8" rx="0"/>
<rect x="64.3" y="753" width="2" height="2" fill="#a8a8a8" rx="0"/>
<rect x="64.3" y="771.6" width="2" height="2" fill="#a8a8a8" rx="0"/>
<rect x="64.3" y="803" width="2" height="2" fill="#a8a8a8" rx="0"/>
<rect x="64.3" y="817.6" width="2" height="2" fill="#a8a8a8" rx="0"/>
<rect x="64.3" y="844.6" width="2" height="2" fill="#a8a8a8" rx="0"/>
<rect x="64.3" y="854" width="2" height="2" fill="#a8a8a8" rx="0"/>
<rect x="64.3" y="877" width="2" height="2" fill="#a8a8a8" rx="0"/>
<rect x="64.3" y="886" width="2" height="2" fill="#a8a8a8" rx="0"/>
<rect x="64.3" y="904" width="2" height="2" fill="#a8a8a8" rx="0"/>
<rect x="64.3" y="912" width="2" height="2" fill="#a8a8a8" rx="0"/>
<rect x="64.3" y="925" width="2" height="2" fill="#a8a8a8" rx="0"/>
<rect x="64.3" y="932" width="2" height="2" fill="#a8a8a8" rx="0"/>
<rect x="64.3" y="938" width="2" height="2" fill="#a8a8a8" rx="0"/>
<rect x="64.3" y="944" width="2" height="2" fill="#a8a8a8" rx="0"/>
<rect x="64.3" y="967" width="2" height="2" fill="#a8a8a8" rx="0"/>
<rect x="64.3" y="977" width="2" height="2" fill="#a8a8a8" rx="0"/>
<rect x="64.3" y="997" width="2" height="2" fill="#a8a8a8" rx="0"/>
<rect x="64.3" y="1002" width="2" height="2" fill="#a8a8a8" rx="0"/>
<rect x="57.7" y="638.5" width="23.6" height="61" fill="#232323" stroke="#a2a2a2" stroke-width="3.4" rx="4"/>
<rect x="64.5" y="667.5" width="10" height="3" fill="#a8a8a8" rx="1"/>
<text x="29.8" y="1086.6" font-size="24" fill="#4ca3ee" text-anchor="start" font-weight="normal" textLength="34" lengthAdjust="spacingAndGlyphs" stroke="#4ca3ee" stroke-width="0.8">0.0</text>
<text x="94" y="1086.6" font-size="24" fill="#c4c4c4" text-anchor="start" font-weight="normal" textLength="47" lengthAdjust="spacingAndGlyphs" stroke="#c4c4c4" stroke-width="0.45">–3.8</text>
<text x="17.4" y="1131.5" font-size="23" fill="#c4c4c4" text-anchor="start" font-weight="normal" textLength="29.5" lengthAdjust="spacingAndGlyphs" stroke="#c4c4c4" stroke-width="0.45">S1</text>
<rect x="64.5" y="1104.5" width="124" height="37" fill="#1a1a1a" stroke="#2c2c2c" stroke-width="3" rx="5"/>
<text x="128.7" y="1130.8" font-size="23" fill="#dedede" text-anchor="middle" font-weight="normal" textLength="101" lengthAdjust="spacingAndGlyphs" stroke="#dedede" stroke-width="0.45">Submix 1</text>
</g>
<g transform="translate(788,0)">
<rect x="11.6" y="412.70000000000005" width="168.60000000000002" height="37.89999999999996" fill="#1b1b1b" stroke="#303030" stroke-width="3.2" rx="5"/>
<text x="26" y="440" font-size="23" fill="#e6e6e6" text-anchor="start" font-weight="normal" textLength="51" lengthAdjust="spacingAndGlyphs" stroke="#e6e6e6" stroke-width="0.95">Read</text>
<polyline points="155.0,427.35 162.7,434.65 170.39999999999998,427.35" fill="none" stroke="#dcdcdc" stroke-width="2.2"/>
<linearGradient id="g4" gradientUnits="userSpaceOnUse" x1="0" y1="536.6" x2="0" y2="1046.0">
<stop offset="0.0000" stop-color="#ff6030"/>
<stop offset="0.0500" stop-color="#f09048"/>
<stop offset="0.0883" stop-color="#f4b044"/>
<stop offset="0.1200" stop-color="#f0e840"/>
<stop offset="0.1600" stop-color="#d0f048"/>
<stop offset="0.2000" stop-color="#a0e84a"/>
<stop offset="0.2417" stop-color="#70e44a"/>
<stop offset="0.2833" stop-color="#48e048"/>
<stop offset="0.3167" stop-color="#3ae042"/>
<stop offset="0.5000" stop-color="#3cd048"/>
<stop offset="1.0000" stop-color="#3aa64a"/>
</linearGradient>
<rect x="95.5" y="513" width="47.7" height="536" fill="#050505" rx="0"/>
<rect x="97.4" y="514.9" width="20.099999999999994" height="17.2" fill="#1e1e1e" rx="0"/>
<rect x="119.3" y="514.9" width="22.000000000000014" height="17.2" fill="#1e1e1e" rx="0"/>
<rect x="97.4" y="533.8" width="20.099999999999994" height="513.4" fill="#1f1f1f" rx="0"/>
<rect x="119.3" y="533.8" width="22.000000000000014" height="513.4" fill="#1f1f1f" rx="0"/>
<rect x="97.4" y="558" width="20.099999999999994" height="2.6" fill="#f4f0a8" rx="0"/>
<rect x="97.4" y="564" width="20.099999999999994" height="483" fill="url(#g4)" rx="0"/>
<rect x="119.3" y="560" width="22.000000000000014" height="2.6" fill="#f4f0a8" rx="0"/>
<rect x="119.3" y="570" width="22.000000000000014" height="477" fill="url(#g4)" rx="0"/>
<rect x="143.5" y="535.5" width="8.3" height="2.2" fill="#bdbdbd" rx="0"/>
<text x="160" y="543.8000000000001" font-size="20" fill="#c2c2c2" text-anchor="start" font-weight="normal" stroke="#c2c2c2" stroke-width="0.45">0</text>
<rect x="143.5" y="543.99" width="4.2" height="2.2" fill="#bdbdbd" rx="0"/>
<rect x="143.5" y="552.48" width="4.2" height="2.2" fill="#bdbdbd" rx="0"/>
<rect x="143.5" y="560.97" width="4.2" height="2.2" fill="#bdbdbd" rx="0"/>
<rect x="143.5" y="569.46" width="4.2" height="2.2" fill="#bdbdbd" rx="0"/>
<rect x="143.5" y="577.95" width="4.2" height="2.2" fill="#bdbdbd" rx="0"/>
<rect x="143.5" y="586.4399999999999" width="8.3" height="2.2" fill="#bdbdbd" rx="0"/>
<rect x="160" y="586.4399999999999" width="7.8" height="2.2" fill="#c2c2c2" rx="0"/>
<text x="170.4" y="594.74" font-size="20" fill="#c2c2c2" text-anchor="start" font-weight="normal" stroke="#c2c2c2" stroke-width="0.45">6</text>
<rect x="143.5" y="594.93" width="4.2" height="2.2" fill="#bdbdbd" rx="0"/>
<rect x="143.5" y="603.42" width="4.2" height="2.2" fill="#bdbdbd" rx="0"/>
<rect x="143.5" y="611.91" width="4.2" height="2.2" fill="#bdbdbd" rx="0"/>
<rect x="143.5" y="620.4" width="4.2" height="2.2" fill="#bdbdbd" rx="0"/>
<rect x="143.5" y="628.89" width="4.2" height="2.2" fill="#bdbdbd" rx="0"/>
<rect x="143.5" y="637.38" width="8.3" height="2.2" fill="#bdbdbd" rx="0"/>
<rect x="160" y="637.38" width="7.8" height="2.2" fill="#c2c2c2" rx="0"/>
<text x="170.4" y="645.6800000000001" font-size="20" fill="#c2c2c2" text-anchor="start" font-weight="normal" stroke="#c2c2c2" stroke-width="0.45">12</text>
<rect x="143.5" y="645.87" width="4.2" height="2.2" fill="#bdbdbd" rx="0"/>
<rect x="143.5" y="654.36" width="4.2" height="2.2" fill="#bdbdbd" rx="0"/>
<rect x="143.5" y="662.85" width="4.2" height="2.2" fill="#bdbdbd" rx="0"/>
<rect x="143.5" y="671.34" width="4.2" height="2.2" fill="#bdbdbd" rx="0"/>
<rect x="143.5" y="679.83" width="4.2" height="2.2" fill="#bdbdbd" rx="0"/>
<rect x="143.5" y="688.32" width="8.3" height="2.2" fill="#bdbdbd" rx="0"/>
<rect x="160" y="688.32" width="7.8" height="2.2" fill="#c2c2c2" rx="0"/>
<text x="170.4" y="696.6200000000001" font-size="20" fill="#c2c2c2" text-anchor="start" font-weight="normal" stroke="#c2c2c2" stroke-width="0.45">18</text>
<rect x="143.5" y="696.8100000000001" width="4.2" height="2.2" fill="#bdbdbd" rx="0"/>
<rect x="143.5" y="705.3000000000001" width="4.2" height="2.2" fill="#bdbdbd" rx="0"/>
<rect x="143.5" y="713.79" width="4.2" height="2.2" fill="#bdbdbd" rx="0"/>
<rect x="143.5" y="722.28" width="4.2" height="2.2" fill="#bdbdbd" rx="0"/>
<rect x="143.5" y="730.77" width="4.2" height="2.2" fill="#bdbdbd" rx="0"/>
<rect x="143.5" y="739.26" width="8.3" height="2.2" fill="#bdbdbd" rx="0"/>
<rect x="160" y="739.26" width="7.8" height="2.2" fill="#c2c2c2" rx="0"/>
<text x="170.4" y="747.5600000000001" font-size="20" fill="#c2c2c2" text-anchor="start" font-weight="normal" stroke="#c2c2c2" stroke-width="0.45">24</text>
<rect x="143.5" y="747.75" width="4.2" height="2.2" fill="#bdbdbd" rx="0"/>
<rect x="143.5" y="756.24" width="4.2" height="2.2" fill="#bdbdbd" rx="0"/>
<rect x="143.5" y="764.73" width="4.2" height="2.2" fill="#bdbdbd" rx="0"/>
<rect x="143.5" y="773.22" width="4.2" height="2.2" fill="#bdbdbd" rx="0"/>
<rect x="143.5" y="781.71" width="4.2" height="2.2" fill="#bdbdbd" rx="0"/>
<rect x="143.5" y="790.2" width="8.3" height="2.2" fill="#bdbdbd" rx="0"/>
<rect x="160" y="790.2" width="7.8" height="2.2" fill="#c2c2c2" rx="0"/>
<text x="170.4" y="798.5000000000001" font-size="20" fill="#c2c2c2" text-anchor="start" font-weight="normal" stroke="#c2c2c2" stroke-width="0.45">30</text>
<rect x="143.5" y="798.6899999999999" width="4.2" height="2.2" fill="#bdbdbd" rx="0"/>
<rect x="143.5" y="807.18" width="4.2" height="2.2" fill="#bdbdbd" rx="0"/>
<rect x="143.5" y="815.67" width="4.2" height="2.2" fill="#bdbdbd" rx="0"/>
<rect x="143.5" y="824.16" width="4.2" height="2.2" fill="#bdbdbd" rx="0"/>
<rect x="143.5" y="832.65" width="4.2" height="2.2" fill="#bdbdbd" rx="0"/>
<rect x="143.5" y="841.14" width="8.3" height="2.2" fill="#bdbdbd" rx="0"/>
<rect x="160" y="841.14" width="7.8" height="2.2" fill="#c2c2c2" rx="0"/>
<text x="170.4" y="849.44" font-size="20" fill="#c2c2c2" text-anchor="start" font-weight="normal" stroke="#c2c2c2" stroke-width="0.45">36</text>
<rect x="143.5" y="849.63" width="4.2" height="2.2" fill="#bdbdbd" rx="0"/>
<rect x="143.5" y="858.12" width="4.2" height="2.2" fill="#bdbdbd" rx="0"/>
<rect x="143.5" y="866.61" width="4.2" height="2.2" fill="#bdbdbd" rx="0"/>
<rect x="143.5" y="875.1" width="4.2" height="2.2" fill="#bdbdbd" rx="0"/>
<rect x="143.5" y="883.59" width="4.2" height="2.2" fill="#bdbdbd" rx="0"/>
<rect x="143.5" y="892.08" width="8.3" height="2.2" fill="#bdbdbd" rx="0"/>
<rect x="160" y="892.08" width="7.8" height="2.2" fill="#c2c2c2" rx="0"/>
<text x="170.4" y="900.3800000000001" font-size="20" fill="#c2c2c2" text-anchor="start" font-weight="normal" stroke="#c2c2c2" stroke-width="0.45">42</text>
<rect x="143.5" y="900.57" width="4.2" height="2.2" fill="#bdbdbd" rx="0"/>
<rect x="143.5" y="909.0600000000001" width="4.2" height="2.2" fill="#bdbdbd" rx="0"/>
<rect x="143.5" y="917.5500000000001" width="4.2" height="2.2" fill="#bdbdbd" rx="0"/>
<rect x="143.5" y="926.0400000000001" width="4.2" height="2.2" fill="#bdbdbd" rx="0"/>
<rect x="143.5" y="934.5300000000001" width="4.2" height="2.2" fill="#bdbdbd" rx="0"/>
<rect x="143.5" y="943.02" width="8.3" height="2.2" fill="#bdbdbd" rx="0"/>
<rect x="160" y="943.02" width="7.8" height="2.2" fill="#c2c2c2" rx="0"/>
<text x="170.4" y="951.32" font-size="20" fill="#c2c2c2" text-anchor="start" font-weight="normal" stroke="#c2c2c2" stroke-width="0.45">48</text>
<rect x="143.5" y="951.51" width="4.2" height="2.2" fill="#bdbdbd" rx="0"/>
<rect x="143.5" y="960.0" width="4.2" height="2.2" fill="#bdbdbd" rx="0"/>
<rect x="143.5" y="968.49" width="4.2" height="2.2" fill="#bdbdbd" rx="0"/>
<rect x="143.5" y="976.98" width="4.2" height="2.2" fill="#bdbdbd" rx="0"/>
<rect x="143.5" y="985.47" width="4.2" height="2.2" fill="#bdbdbd" rx="0"/>
<rect x="143.5" y="993.96" width="8.3" height="2.2" fill="#bdbdbd" rx="0"/>
<rect x="160" y="993.96" width="7.8" height="2.2" fill="#c2c2c2" rx="0"/>
<text x="170.4" y="1002.2600000000001" font-size="20" fill="#c2c2c2" text-anchor="start" font-weight="normal" stroke="#c2c2c2" stroke-width="0.45">54</text>
<rect x="143.5" y="1002.4499999999999" width="4.2" height="2.2" fill="#bdbdbd" rx="0"/>
<rect x="143.5" y="1010.9399999999999" width="4.2" height="2.2" fill="#bdbdbd" rx="0"/>
<rect x="143.5" y="1019.43" width="4.2" height="2.2" fill="#bdbdbd" rx="0"/>
<rect x="143.5" y="1027.92" width="4.2" height="2.2" fill="#bdbdbd" rx="0"/>
<rect x="143.5" y="1036.41" width="4.2" height="2.2" fill="#bdbdbd" rx="0"/>
<rect x="143.5" y="1044.9" width="8.3" height="2.2" fill="#bdbdbd" rx="0"/>
<text x="159.5" y="1043.51" font-size="18.5" fill="#c2c2c2" text-anchor="start" font-weight="normal" stroke="#c2c2c2" stroke-width="0.45">dB</text>
<text x="51" y="531.5" font-size="16.5" fill="#c2c2c2" text-anchor="end" font-weight="normal" stroke="#c2c2c2" stroke-width="0.45">dB</text>
<rect x="66.2" y="560" width="4.9" height="476.4" fill="#050505" rx="0"/>
<text x="51.2" y="554.2" font-size="20" fill="#c2c2c2" text-anchor="end" font-weight="normal" stroke="#c2c2c2" stroke-width="0.45">0</text>
<rect x="57.4" y="630.5" width="8" height="2.2" fill="#b8b8b8" rx="0"/>
<rect x="72.1" y="630.5" width="6.2" height="2.2" fill="#b8b8b8" rx="0"/>
<text x="51.2" y="638.8000000000001" font-size="20" fill="#c2c2c2" text-anchor="end" font-weight="normal" stroke="#c2c2c2" stroke-width="0.45">3</text>
<rect x="29.28" y="630.5" width="8.4" height="2.2" fill="#c2c2c2" rx="0"/>
<rect x="57.4" y="698.9" width="8" height="2.2" fill="#b8b8b8" rx="0"/>
<rect x="72.1" y="698.9" width="6.2" height="2.2" fill="#b8b8b8" rx="0"/>
<text x="51.2" y="707.2" font-size="20" fill="#c2c2c2" text-anchor="end" font-weight="normal" stroke="#c2c2c2" stroke-width="0.45">6</text>
<rect x="29.28" y="698.9" width="8.4" height="2.2" fill="#c2c2c2" rx="0"/>
<rect x="57.4" y="756.9" width="8" height="2.2" fill="#b8b8b8" rx="0"/>
<rect x="72.1" y="756.9" width="6.2" height="2.2" fill="#b8b8b8" rx="0"/>
<text x="51.2" y="765.2" font-size="20" fill="#c2c2c2" text-anchor="end" font-weight="normal" stroke="#c2c2c2" stroke-width="0.45">9</text>
<rect x="29.28" y="756.9" width="8.4" height="2.2" fill="#c2c2c2" rx="0"/>
<rect x="57.4" y="804.3" width="8" height="2.2" fill="#b8b8b8" rx="0"/>
<rect x="72.1" y="804.3" width="6.2" height="2.2" fill="#b8b8b8" rx="0"/>
<text x="51.2" y="812.6" font-size="20" fill="#c2c2c2" text-anchor="end" font-weight="normal" stroke="#c2c2c2" stroke-width="0.45">12</text>
<rect x="18.160000000000004" y="804.3" width="8.4" height="2.2" fill="#c2c2c2" rx="0"/>
<rect x="57.4" y="844.1" width="8" height="2.2" fill="#b8b8b8" rx="0"/>
<rect x="72.1" y="844.1" width="6.2" height="2.2" fill="#b8b8b8" rx="0"/>
<text x="51.2" y="852.4000000000001" font-size="20" fill="#c2c2c2" text-anchor="end" font-weight="normal" stroke="#c2c2c2" stroke-width="0.45">15</text>
<rect x="18.160000000000004" y="844.1" width="8.4" height="2.2" fill="#c2c2c2" rx="0"/>
<rect x="57.4" y="874.9" width="8" height="2.2" fill="#b8b8b8" rx="0"/>
<rect x="72.1" y="874.9" width="6.2" height="2.2" fill="#b8b8b8" rx="0"/>
<text x="51.2" y="883.2" font-size="20" fill="#c2c2c2" text-anchor="end" font-weight="normal" stroke="#c2c2c2" stroke-width="0.45">18</text>
<rect x="18.160000000000004" y="874.9" width="8.4" height="2.2" fill="#c2c2c2" rx="0"/>
<rect x="57.4" y="922.5" width="8" height="2.2" fill="#b8b8b8" rx="0"/>
<rect x="72.1" y="922.5" width="6.2" height="2.2" fill="#b8b8b8" rx="0"/>
<text x="51.2" y="930.8000000000001" font-size="20" fill="#c2c2c2" text-anchor="end" font-weight="normal" stroke="#c2c2c2" stroke-width="0.45">24</text>
<rect x="18.160000000000004" y="922.5" width="8.4" height="2.2" fill="#c2c2c2" rx="0"/>
<rect x="57.4" y="955.8" width="8" height="2.2" fill="#b8b8b8" rx="0"/>
<rect x="72.1" y="955.8" width="6.2" height="2.2" fill="#b8b8b8" rx="0"/>
<text x="51.2" y="964.1" font-size="20" fill="#c2c2c2" text-anchor="end" font-weight="normal" stroke="#c2c2c2" stroke-width="0.45">30</text>
<rect x="18.160000000000004" y="955.8" width="8.4" height="2.2" fill="#c2c2c2" rx="0"/>
<rect x="57.4" y="987.1" width="8" height="2.2" fill="#b8b8b8" rx="0"/>
<rect x="72.1" y="987.1" width="6.2" height="2.2" fill="#b8b8b8" rx="0"/>
<text x="51.2" y="995.4000000000001" font-size="20" fill="#c2c2c2" text-anchor="end" font-weight="normal" stroke="#c2c2c2" stroke-width="0.45">39</text>
<rect x="18.160000000000004" y="987.1" width="8.4" height="2.2" fill="#c2c2c2" rx="0"/>
<rect x="57.4" y="1009.6" width="8" height="2.2" fill="#b8b8b8" rx="0"/>
<rect x="72.1" y="1009.6" width="6.2" height="2.2" fill="#b8b8b8" rx="0"/>
<rect x="57.4" y="1024.7" width="8" height="2.2" fill="#b8b8b8" rx="0"/>
<rect x="72.1" y="1024.7" width="6.2" height="2.2" fill="#b8b8b8" rx="0"/>
<text x="51.2" y="1033.0" font-size="20" fill="#c2c2c2" text-anchor="end" font-weight="normal" stroke="#c2c2c2" stroke-width="0.45">∞</text>
<rect x="26.140000000000008" y="1024.7" width="8.4" height="2.2" fill="#c2c2c2" rx="0"/>
<rect x="63.6" y="603" width="2" height="2" fill="#a8a8a8" rx="0"/>
<rect x="63.6" y="656" width="2" height="2" fill="#a8a8a8" rx="0"/>
<rect x="63.6" y="678.6" width="2" height="2" fill="#a8a8a8" rx="0"/>
<rect x="63.6" y="720" width="2" height="2" fill="#a8a8a8" rx="0"/>
<rect x="63.6" y="738.4" width="2" height="2" fill="#a8a8a8" rx="0"/>
<rect x="63.6" y="773.4" width="2" height="2" fill="#a8a8a8" rx="0"/>
<rect x="63.6" y="790" width="2" height="2" fill="#a8a8a8" rx="0"/>
<rect x="63.6" y="817" width="2" height="2" fill="#a8a8a8" rx="0"/>
<rect x="63.6" y="832" width="2" height="2" fill="#a8a8a8" rx="0"/>
<rect x="63.6" y="854.4" width="2" height="2" fill="#a8a8a8" rx="0"/>
<rect x="63.6" y="864.5" width="2" height="2" fill="#a8a8a8" rx="0"/>
<rect x="63.6" y="885.7" width="2" height="2" fill="#a8a8a8" rx="0"/>
<rect x="63.6" y="893.3" width="2" height="2" fill="#a8a8a8" rx="0"/>
<rect x="63.6" y="902.6" width="2" height="2" fill="#a8a8a8" rx="0"/>
<rect x="63.6" y="907.7" width="2" height="2" fill="#a8a8a8" rx="0"/>
<rect x="63.6" y="917" width="2" height="2" fill="#a8a8a8" rx="0"/>
<rect x="63.6" y="928.8" width="2" height="2" fill="#a8a8a8" rx="0"/>
<rect x="63.6" y="933.9" width="2" height="2" fill="#a8a8a8" rx="0"/>
<rect x="63.6" y="940.7" width="2" height="2" fill="#a8a8a8" rx="0"/>
<rect x="63.6" y="945.8" width="2" height="2" fill="#a8a8a8" rx="0"/>
<rect x="63.6" y="950.8" width="2" height="2" fill="#a8a8a8" rx="0"/>
<rect x="63.6" y="968.6" width="2" height="2" fill="#a8a8a8" rx="0"/>
<rect x="63.6" y="978.7" width="2" height="2" fill="#a8a8a8" rx="0"/>
<rect x="63.6" y="993.1" width="2" height="2" fill="#a8a8a8" rx="0"/>
<rect x="63.6" y="998.2" width="2" height="2" fill="#a8a8a8" rx="0"/>
<rect x="63.6" y="1003.3" width="2" height="2" fill="#a8a8a8" rx="0"/>
<rect x="57.10000000000001" y="515.9" width="23.6" height="61" fill="#232323" stroke="#a2a2a2" stroke-width="3.4" rx="4"/>
<rect x="63.900000000000006" y="544.9" width="10" height="3" fill="#a8a8a8" rx="1"/>
<text x="25.4" y="1086.6" font-size="24" fill="#4ca3ee" text-anchor="start" font-weight="normal" textLength="34" lengthAdjust="spacingAndGlyphs" stroke="#4ca3ee" stroke-width="0.8">0.0</text>
<text x="89" y="1086.6" font-size="24" fill="#c4c4c4" text-anchor="start" font-weight="normal" textLength="48" lengthAdjust="spacingAndGlyphs" stroke="#c4c4c4" stroke-width="0.45">–2.7</text>
<rect x="12.0" y="1104.5" width="167.0" height="37" fill="#1a1a1a" stroke="#2c2c2c" stroke-width="3" rx="5"/>
<text x="96.7" y="1130.8" font-size="23" fill="#dedede" text-anchor="middle" font-weight="normal" textLength="73" lengthAdjust="spacingAndGlyphs" stroke="#dedede" stroke-width="0.45">Master</text>
</g>
<rect x="196.6" y="112" width="2.6" height="1038" fill="#2f2f2f" rx="0"/>
<rect x="393.4" y="112" width="2.6" height="1038" fill="#2f2f2f" rx="0"/>
<rect x="590.2" y="112" width="2.6" height="1038" fill="#2f2f2f" rx="0"/>
<rect x="787" y="112" width="2.6" height="1038" fill="#2f2f2f" rx="0"/>
<rect x="984" y="112" width="2.6" height="1038" fill="#2f2f2f" rx="0"/>
<rect x="987.4" y="112" width="4" height="1038" fill="#1f1f1f" rx="0"/>
<rect x="0" y="112" width="2" height="1038" fill="#2c2c2c" rx="0"/>
<text x="6.6" y="1206" font-size="24" fill="#4a9fe8" text-anchor="start" font-weight="normal" textLength="134.5" lengthAdjust="spacingAndGlyphs" stroke="#4a9fe8" stroke-width="0.45">00:00:38:01</text>
<rect x="458.2" y="1181.7" width="3.8" height="27" fill="#c8c8c8" rx="1"/>
<polyline points="458.8,1190.8 454.6,1195.2 458.8,1199.6" fill="none" stroke="#c8c8c8" stroke-width="1.6"/>
<path d="M464.2,1195.3 l9.8,-8.3 v5.2 h9 v6 h-9 v5.3 z" fill="#c8c8c8"/>
<rect x="526" y="1181.7" width="3.8" height="27" fill="#c8c8c8" rx="1"/>
<polyline points="529.2,1190.8 533.4,1195.2 529.2,1199.6" fill="none" stroke="#c8c8c8" stroke-width="1.6"/>
<path d="M523.5,1195.3 l-9.8,-8.3 v5.2 h-9 v6 h9 v5.3 z" fill="#c8c8c8"/>
<rect x="561" y="1186.2" width="19.2" height="18.5" fill="#c8c8c8" rx="0"/>
<rect x="609.3" y="1181.7" width="4" height="27" fill="#c8c8c8" rx="1"/>
<polyline points="609.9,1190.8 605.7,1195.2 609.9,1199.6" fill="none" stroke="#c8c8c8" stroke-width="1.6"/>
<rect x="633.7" y="1181.7" width="4" height="27" fill="#c8c8c8" rx="1"/>
<polyline points="637.1,1190.8 641.3,1195.2 637.1,1199.6" fill="none" stroke="#c8c8c8" stroke-width="1.6"/>
<path d="M617.2,1187.7 l14.3,7.5 l-14.3,7.5 z" fill="#c8c8c8"/>
<path d="M660.7,1187.7 h8.3 v3.8 h-3.8 v10.5 h20.3 v-7.5 h4.5 v12.7 h-29.3 z" fill="#c8c8c8"/>
<path d="M673.5,1184 l14.2,6.8 l-14.2,6.8 z" fill="#c8c8c8"/>
<filter id="bl" x="-50%" y="-50%" width="200%" height="200%"><feGaussianBlur stdDeviation="0.9"/></filter>
<circle cx="727.2" cy="1196" r="10.6" fill="#6e2727" filter="url(#bl)"/>
<rect x="0" y="1213.6" width="1000" height="4.6" fill="#0c1a36" rx="0"/>
<rect x="0" y="1214.8" width="1000" height="2.4" fill="#6a94d8" rx="0"/>
<rect x="0" y="1217.6" width="1000" height="5.2" fill="#0f0f11" rx="0"/>
<rect x="0" y="1222.8" width="1000" height="2.2" fill="#181818" rx="0"/>
<rect x="56" y="1225" width="8" height="75" fill="#1a1a1a" rx="0"/>
<path d="M0,1259.5 L21,1280.5 L8,1281.5 L0,1288 Z" fill="#3f92ea"/>
<path d="M87.5,1250.5 l10,10 M97.5,1250.5 l-10,10" stroke="#a8a8a8" stroke-width="1.8"/>
<text x="120" y="1263" font-size="24" fill="#dcdcdc" text-anchor="start" font-weight="normal" textLength="138.5" lengthAdjust="spacingAndGlyphs" stroke="#dcdcdc" stroke-width="0.45">Sequence 01</text>
<rect x="279" y="1247.5" width="17" height="2" fill="#c8c8c8" rx="0"/>
<rect x="279" y="1254" width="17" height="2" fill="#c8c8c8" rx="0"/>
<rect x="279" y="1260.5" width="17" height="2" fill="#c8c8c8" rx="0"/>
<text x="106.8" y="1314" font-size="31" fill="#4a9fe8" text-anchor="start" font-weight="bold" textLength="34.8" lengthAdjust="spacingAndGlyphs" stroke="#4a9fe8" stroke-width="0.45">00</text>
<text x="158" y="1314" font-size="31" fill="#4a9fe8" text-anchor="start" font-weight="bold" textLength="34.8" lengthAdjust="spacingAndGlyphs" stroke="#4a9fe8" stroke-width="0.45">00</text>
<text x="208.7" y="1314" font-size="31" fill="#4a9fe8" text-anchor="start" font-weight="bold" textLength="34.8" lengthAdjust="spacingAndGlyphs" stroke="#4a9fe8" stroke-width="0.45">00</text>
<text x="259" y="1314" font-size="31" fill="#4a9fe8" text-anchor="start" font-weight="bold" textLength="34.8" lengthAdjust="spacingAndGlyphs" stroke="#4a9fe8" stroke-width="0.45">01</text>
<rect x="616" y="1280" width="4" height="20" fill="#1e1e1e" rx="0"/>
<rect x="619" y="1282.2" width="381" height="18" fill="#555555" rx="0"/>
<rect x="620.5" y="1283.5" width="380" height="17" fill="#474747" rx="0"/>
</svg>
</body></html>
